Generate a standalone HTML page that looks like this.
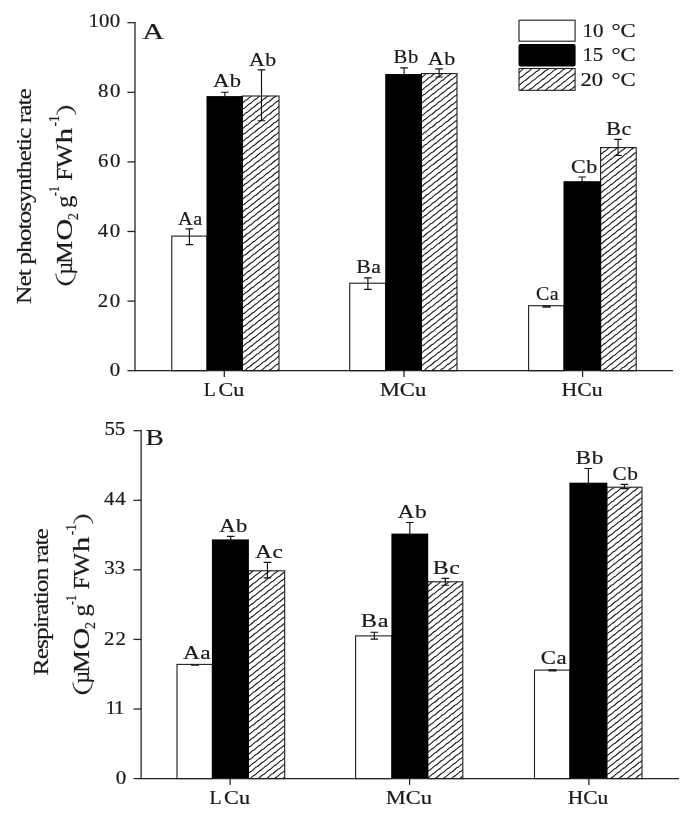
<!DOCTYPE html>
<html><head><meta charset="utf-8"><title>Figure</title>
<style>
html,body{margin:0;padding:0;background:#fff;}
svg{display:block;will-change:transform;filter:grayscale(1)}
text{font-family:"Liberation Serif",serif;fill:#1a1a1a;stroke:#1a1a1a;stroke-width:.2px;white-space:pre}
</style></head>
<body>
<svg width="685" height="818" viewBox="0 0 685 818">
<defs><clipPath id="c0"><rect x="242.3" y="96" width="36.70" height="274.70"/></clipPath><clipPath id="c1"><rect x="421.4" y="73.6" width="35.60" height="297.10"/></clipPath><clipPath id="c2"><rect x="600.6" y="147.6" width="35.60" height="223.10"/></clipPath><clipPath id="c3"><rect x="519" y="68.5" width="56.10" height="21.80"/></clipPath><clipPath id="c4"><rect x="248.4" y="570.8" width="36.30" height="207.80"/></clipPath><clipPath id="c5"><rect x="427.7" y="581.8" width="35.10" height="196.80"/></clipPath><clipPath id="c6"><rect x="606.8" y="487.2" width="35.20" height="291.40"/></clipPath></defs>
<rect width="685" height="818" fill="#fff"/>
<rect x="171.8" y="236.1" width="35.19999999999999" height="134.6" fill="#fff" stroke="#1f1f1f" stroke-width="1.1"/>
<path clip-path="url(#c0)" d="M231.9 105.2l4.7-4.25l1.3-.45l4.7-4.25l1.3-.45l4.7-4.25l1.3-.45l4.7-4.25l1.3-.45l4.7-4.25l1.3-.45l4.7-4.25l1.3-.45l4.7-4.25l1.3-.45l4.7-4.25l1.3-.45l4.7-4.25l1.3-.45l4.7-4.25l1.3-.45M235.1 109.1l4.7-4.25l1.3-.45l4.7-4.25l1.3-.45l4.7-4.25l1.3-.45l4.7-4.25l1.3-.45l4.7-4.25l1.3-.45l4.7-4.25l1.3-.45l4.7-4.25l1.3-.45l4.7-4.25l1.3-.45l4.7-4.25l1.3-.45l4.7-4.25l1.3-.45M232.3 117.7l4.7-4.25l1.3-.45l4.7-4.25l1.3-.45l4.7-4.25l1.3-.45l4.7-4.25l1.3-.45l4.7-4.25l1.3-.45l4.7-4.25l1.3-.45l4.7-4.25l1.3-.45l4.7-4.25l1.3-.45l4.7-4.25l1.3-.45l4.7-4.25l1.3-.45M235.5 121.6l4.7-4.25l1.3-.45l4.7-4.25l1.3-.45l4.7-4.25l1.3-.45l4.7-4.25l1.3-.45l4.7-4.25l1.3-.45l4.7-4.25l1.3-.45l4.7-4.25l1.3-.45l4.7-4.25l1.3-.45l4.7-4.25l1.3-.45l4.7-4.25l1.3-.45M232.7 130.2l4.7-4.25l1.3-.45l4.7-4.25l1.3-.45l4.7-4.25l1.3-.45l4.7-4.25l1.3-.45l4.7-4.25l1.3-.45l4.7-4.25l1.3-.45l4.7-4.25l1.3-.45l4.7-4.25l1.3-.45l4.7-4.25l1.3-.45l4.7-4.25l1.3-.45M235.9 134.1l4.7-4.25l1.3-.45l4.7-4.25l1.3-.45l4.7-4.25l1.3-.45l4.7-4.25l1.3-.45l4.7-4.25l1.3-.45l4.7-4.25l1.3-.45l4.7-4.25l1.3-.45l4.7-4.25l1.3-.45l4.7-4.25l1.3-.45l4.7-4.25l1.3-.45M233.1 142.7l4.7-4.25l1.3-.45l4.7-4.25l1.3-.45l4.7-4.25l1.3-.45l4.7-4.25l1.3-.45l4.7-4.25l1.3-.45l4.7-4.25l1.3-.45l4.7-4.25l1.3-.45l4.7-4.25l1.3-.45l4.7-4.25l1.3-.45l4.7-4.25l1.3-.45M230.3 151.3l4.7-4.25l1.3-.45l4.7-4.25l1.3-.45l4.7-4.25l1.3-.45l4.7-4.25l1.3-.45l4.7-4.25l1.3-.45l4.7-4.25l1.3-.45l4.7-4.25l1.3-.45l4.7-4.25l1.3-.45l4.7-4.25l1.3-.45l4.7-4.25l1.3-.45M233.5 155.2l4.7-4.25l1.3-.45l4.7-4.25l1.3-.45l4.7-4.25l1.3-.45l4.7-4.25l1.3-.45l4.7-4.25l1.3-.45l4.7-4.25l1.3-.45l4.7-4.25l1.3-.45l4.7-4.25l1.3-.45l4.7-4.25l1.3-.45l4.7-4.25l1.3-.45M230.7 163.8l4.7-4.25l1.3-.45l4.7-4.25l1.3-.45l4.7-4.25l1.3-.45l4.7-4.25l1.3-.45l4.7-4.25l1.3-.45l4.7-4.25l1.3-.45l4.7-4.25l1.3-.45l4.7-4.25l1.3-.45l4.7-4.25l1.3-.45l4.7-4.25l1.3-.45M233.9 167.7l4.7-4.25l1.3-.45l4.7-4.25l1.3-.45l4.7-4.25l1.3-.45l4.7-4.25l1.3-.45l4.7-4.25l1.3-.45l4.7-4.25l1.3-.45l4.7-4.25l1.3-.45l4.7-4.25l1.3-.45l4.7-4.25l1.3-.45l4.7-4.25l1.3-.45M231.1 176.3l4.7-4.25l1.3-.45l4.7-4.25l1.3-.45l4.7-4.25l1.3-.45l4.7-4.25l1.3-.45l4.7-4.25l1.3-.45l4.7-4.25l1.3-.45l4.7-4.25l1.3-.45l4.7-4.25l1.3-.45l4.7-4.25l1.3-.45l4.7-4.25l1.3-.45M234.3 180.2l4.7-4.25l1.3-.45l4.7-4.25l1.3-.45l4.7-4.25l1.3-.45l4.7-4.25l1.3-.45l4.7-4.25l1.3-.45l4.7-4.25l1.3-.45l4.7-4.25l1.3-.45l4.7-4.25l1.3-.45l4.7-4.25l1.3-.45l4.7-4.25l1.3-.45M231.5 188.8l4.7-4.25l1.3-.45l4.7-4.25l1.3-.45l4.7-4.25l1.3-.45l4.7-4.25l1.3-.45l4.7-4.25l1.3-.45l4.7-4.25l1.3-.45l4.7-4.25l1.3-.45l4.7-4.25l1.3-.45l4.7-4.25l1.3-.45l4.7-4.25l1.3-.45M234.7 192.7l4.7-4.25l1.3-.45l4.7-4.25l1.3-.45l4.7-4.25l1.3-.45l4.7-4.25l1.3-.45l4.7-4.25l1.3-.45l4.7-4.25l1.3-.45l4.7-4.25l1.3-.45l4.7-4.25l1.3-.45l4.7-4.25l1.3-.45l4.7-4.25l1.3-.45M231.9 201.3l4.7-4.25l1.3-.45l4.7-4.25l1.3-.45l4.7-4.25l1.3-.45l4.7-4.25l1.3-.45l4.7-4.25l1.3-.45l4.7-4.25l1.3-.45l4.7-4.25l1.3-.45l4.7-4.25l1.3-.45l4.7-4.25l1.3-.45l4.7-4.25l1.3-.45M235.1 205.2l4.7-4.25l1.3-.45l4.7-4.25l1.3-.45l4.7-4.25l1.3-.45l4.7-4.25l1.3-.45l4.7-4.25l1.3-.45l4.7-4.25l1.3-.45l4.7-4.25l1.3-.45l4.7-4.25l1.3-.45l4.7-4.25l1.3-.45l4.7-4.25l1.3-.45M232.3 213.8l4.7-4.25l1.3-.45l4.7-4.25l1.3-.45l4.7-4.25l1.3-.45l4.7-4.25l1.3-.45l4.7-4.25l1.3-.45l4.7-4.25l1.3-.45l4.7-4.25l1.3-.45l4.7-4.25l1.3-.45l4.7-4.25l1.3-.45l4.7-4.25l1.3-.45M235.5 217.7l4.7-4.25l1.3-.45l4.7-4.25l1.3-.45l4.7-4.25l1.3-.45l4.7-4.25l1.3-.45l4.7-4.25l1.3-.45l4.7-4.25l1.3-.45l4.7-4.25l1.3-.45l4.7-4.25l1.3-.45l4.7-4.25l1.3-.45l4.7-4.25l1.3-.45M232.7 226.3l4.7-4.25l1.3-.45l4.7-4.25l1.3-.45l4.7-4.25l1.3-.45l4.7-4.25l1.3-.45l4.7-4.25l1.3-.45l4.7-4.25l1.3-.45l4.7-4.25l1.3-.45l4.7-4.25l1.3-.45l4.7-4.25l1.3-.45l4.7-4.25l1.3-.45M235.9 230.2l4.7-4.25l1.3-.45l4.7-4.25l1.3-.45l4.7-4.25l1.3-.45l4.7-4.25l1.3-.45l4.7-4.25l1.3-.45l4.7-4.25l1.3-.45l4.7-4.25l1.3-.45l4.7-4.25l1.3-.45l4.7-4.25l1.3-.45l4.7-4.25l1.3-.45M233.1 238.8l4.7-4.25l1.3-.45l4.7-4.25l1.3-.45l4.7-4.25l1.3-.45l4.7-4.25l1.3-.45l4.7-4.25l1.3-.45l4.7-4.25l1.3-.45l4.7-4.25l1.3-.45l4.7-4.25l1.3-.45l4.7-4.25l1.3-.45l4.7-4.25l1.3-.45M230.3 247.4l4.7-4.25l1.3-.45l4.7-4.25l1.3-.45l4.7-4.25l1.3-.45l4.7-4.25l1.3-.45l4.7-4.25l1.3-.45l4.7-4.25l1.3-.45l4.7-4.25l1.3-.45l4.7-4.25l1.3-.45l4.7-4.25l1.3-.45l4.7-4.25l1.3-.45M233.5 251.4l4.7-4.25l1.3-.45l4.7-4.25l1.3-.45l4.7-4.25l1.3-.45l4.7-4.25l1.3-.45l4.7-4.25l1.3-.45l4.7-4.25l1.3-.45l4.7-4.25l1.3-.45l4.7-4.25l1.3-.45l4.7-4.25l1.3-.45l4.7-4.25l1.3-.45M230.7 260.0l4.7-4.25l1.3-.45l4.7-4.25l1.3-.45l4.7-4.25l1.3-.45l4.7-4.25l1.3-.45l4.7-4.25l1.3-.45l4.7-4.25l1.3-.45l4.7-4.25l1.3-.45l4.7-4.25l1.3-.45l4.7-4.25l1.3-.45l4.7-4.25l1.3-.45M233.9 263.9l4.7-4.25l1.3-.45l4.7-4.25l1.3-.45l4.7-4.25l1.3-.45l4.7-4.25l1.3-.45l4.7-4.25l1.3-.45l4.7-4.25l1.3-.45l4.7-4.25l1.3-.45l4.7-4.25l1.3-.45l4.7-4.25l1.3-.45l4.7-4.25l1.3-.45M231.1 272.5l4.7-4.25l1.3-.45l4.7-4.25l1.3-.45l4.7-4.25l1.3-.45l4.7-4.25l1.3-.45l4.7-4.25l1.3-.45l4.7-4.25l1.3-.45l4.7-4.25l1.3-.45l4.7-4.25l1.3-.45l4.7-4.25l1.3-.45l4.7-4.25l1.3-.45M234.3 276.4l4.7-4.25l1.3-.45l4.7-4.25l1.3-.45l4.7-4.25l1.3-.45l4.7-4.25l1.3-.45l4.7-4.25l1.3-.45l4.7-4.25l1.3-.45l4.7-4.25l1.3-.45l4.7-4.25l1.3-.45l4.7-4.25l1.3-.45l4.7-4.25l1.3-.45M231.5 285.0l4.7-4.25l1.3-.45l4.7-4.25l1.3-.45l4.7-4.25l1.3-.45l4.7-4.25l1.3-.45l4.7-4.25l1.3-.45l4.7-4.25l1.3-.45l4.7-4.25l1.3-.45l4.7-4.25l1.3-.45l4.7-4.25l1.3-.45l4.7-4.25l1.3-.45M234.7 288.9l4.7-4.25l1.3-.45l4.7-4.25l1.3-.45l4.7-4.25l1.3-.45l4.7-4.25l1.3-.45l4.7-4.25l1.3-.45l4.7-4.25l1.3-.45l4.7-4.25l1.3-.45l4.7-4.25l1.3-.45l4.7-4.25l1.3-.45l4.7-4.25l1.3-.45M231.9 297.5l4.7-4.25l1.3-.45l4.7-4.25l1.3-.45l4.7-4.25l1.3-.45l4.7-4.25l1.3-.45l4.7-4.25l1.3-.45l4.7-4.25l1.3-.45l4.7-4.25l1.3-.45l4.7-4.25l1.3-.45l4.7-4.25l1.3-.45l4.7-4.25l1.3-.45M235.1 301.4l4.7-4.25l1.3-.45l4.7-4.25l1.3-.45l4.7-4.25l1.3-.45l4.7-4.25l1.3-.45l4.7-4.25l1.3-.45l4.7-4.25l1.3-.45l4.7-4.25l1.3-.45l4.7-4.25l1.3-.45l4.7-4.25l1.3-.45l4.7-4.25l1.3-.45M232.3 310.0l4.7-4.25l1.3-.45l4.7-4.25l1.3-.45l4.7-4.25l1.3-.45l4.7-4.25l1.3-.45l4.7-4.25l1.3-.45l4.7-4.25l1.3-.45l4.7-4.25l1.3-.45l4.7-4.25l1.3-.45l4.7-4.25l1.3-.45l4.7-4.25l1.3-.45M235.5 313.9l4.7-4.25l1.3-.45l4.7-4.25l1.3-.45l4.7-4.25l1.3-.45l4.7-4.25l1.3-.45l4.7-4.25l1.3-.45l4.7-4.25l1.3-.45l4.7-4.25l1.3-.45l4.7-4.25l1.3-.45l4.7-4.25l1.3-.45l4.7-4.25l1.3-.45M232.7 322.5l4.7-4.25l1.3-.45l4.7-4.25l1.3-.45l4.7-4.25l1.3-.45l4.7-4.25l1.3-.45l4.7-4.25l1.3-.45l4.7-4.25l1.3-.45l4.7-4.25l1.3-.45l4.7-4.25l1.3-.45l4.7-4.25l1.3-.45l4.7-4.25l1.3-.45M235.9 326.4l4.7-4.25l1.3-.45l4.7-4.25l1.3-.45l4.7-4.25l1.3-.45l4.7-4.25l1.3-.45l4.7-4.25l1.3-.45l4.7-4.25l1.3-.45l4.7-4.25l1.3-.45l4.7-4.25l1.3-.45l4.7-4.25l1.3-.45l4.7-4.25l1.3-.45M233.1 335.0l4.7-4.25l1.3-.45l4.7-4.25l1.3-.45l4.7-4.25l1.3-.45l4.7-4.25l1.3-.45l4.7-4.25l1.3-.45l4.7-4.25l1.3-.45l4.7-4.25l1.3-.45l4.7-4.25l1.3-.45l4.7-4.25l1.3-.45l4.7-4.25l1.3-.45M230.3 343.6l4.7-4.25l1.3-.45l4.7-4.25l1.3-.45l4.7-4.25l1.3-.45l4.7-4.25l1.3-.45l4.7-4.25l1.3-.45l4.7-4.25l1.3-.45l4.7-4.25l1.3-.45l4.7-4.25l1.3-.45l4.7-4.25l1.3-.45l4.7-4.25l1.3-.45M233.5 347.5l4.7-4.25l1.3-.45l4.7-4.25l1.3-.45l4.7-4.25l1.3-.45l4.7-4.25l1.3-.45l4.7-4.25l1.3-.45l4.7-4.25l1.3-.45l4.7-4.25l1.3-.45l4.7-4.25l1.3-.45l4.7-4.25l1.3-.45l4.7-4.25l1.3-.45M230.7 356.1l4.7-4.25l1.3-.45l4.7-4.25l1.3-.45l4.7-4.25l1.3-.45l4.7-4.25l1.3-.45l4.7-4.25l1.3-.45l4.7-4.25l1.3-.45l4.7-4.25l1.3-.45l4.7-4.25l1.3-.45l4.7-4.25l1.3-.45l4.7-4.25l1.3-.45M233.9 360.0l4.7-4.25l1.3-.45l4.7-4.25l1.3-.45l4.7-4.25l1.3-.45l4.7-4.25l1.3-.45l4.7-4.25l1.3-.45l4.7-4.25l1.3-.45l4.7-4.25l1.3-.45l4.7-4.25l1.3-.45l4.7-4.25l1.3-.45l4.7-4.25l1.3-.45M231.1 368.6l4.7-4.25l1.3-.45l4.7-4.25l1.3-.45l4.7-4.25l1.3-.45l4.7-4.25l1.3-.45l4.7-4.25l1.3-.45l4.7-4.25l1.3-.45l4.7-4.25l1.3-.45l4.7-4.25l1.3-.45l4.7-4.25l1.3-.45l4.7-4.25l1.3-.45M234.3 372.5l4.7-4.25l1.3-.45l4.7-4.25l1.3-.45l4.7-4.25l1.3-.45l4.7-4.25l1.3-.45l4.7-4.25l1.3-.45l4.7-4.25l1.3-.45l4.7-4.25l1.3-.45l4.7-4.25l1.3-.45l4.7-4.25l1.3-.45l4.7-4.25l1.3-.45M231.5 381.1l4.7-4.25l1.3-.45l4.7-4.25l1.3-.45l4.7-4.25l1.3-.45l4.7-4.25l1.3-.45l4.7-4.25l1.3-.45l4.7-4.25l1.3-.45l4.7-4.25l1.3-.45l4.7-4.25l1.3-.45l4.7-4.25l1.3-.45l4.7-4.25l1.3-.45M234.7 385.0l4.7-4.25l1.3-.45l4.7-4.25l1.3-.45l4.7-4.25l1.3-.45l4.7-4.25l1.3-.45l4.7-4.25l1.3-.45l4.7-4.25l1.3-.45l4.7-4.25l1.3-.45l4.7-4.25l1.3-.45l4.7-4.25l1.3-.45l4.7-4.25l1.3-.45M231.9 393.6l4.7-4.25l1.3-.45l4.7-4.25l1.3-.45l4.7-4.25l1.3-.45l4.7-4.25l1.3-.45l4.7-4.25l1.3-.45l4.7-4.25l1.3-.45l4.7-4.25l1.3-.45l4.7-4.25l1.3-.45l4.7-4.25l1.3-.45l4.7-4.25l1.3-.45M235.1 397.5l4.7-4.25l1.3-.45l4.7-4.25l1.3-.45l4.7-4.25l1.3-.45l4.7-4.25l1.3-.45l4.7-4.25l1.3-.45l4.7-4.25l1.3-.45l4.7-4.25l1.3-.45l4.7-4.25l1.3-.45l4.7-4.25l1.3-.45l4.7-4.25l1.3-.45M232.3 406.1l4.7-4.25l1.3-.45l4.7-4.25l1.3-.45l4.7-4.25l1.3-.45l4.7-4.25l1.3-.45l4.7-4.25l1.3-.45l4.7-4.25l1.3-.45l4.7-4.25l1.3-.45l4.7-4.25l1.3-.45l4.7-4.25l1.3-.45l4.7-4.25l1.3-.45" fill="none" stroke="#1c1c1c" stroke-width="1.12" stroke-linejoin="round"/>
<rect x="242.3" y="96" width="36.70" height="274.70" fill="none" stroke="#1f1f1f" stroke-width="1.1"/>
<rect x="206.5" y="96.1" width="36.30000000000001" height="274.6" fill="#000"/>
<rect x="349.7" y="283.2" width="36.0" height="87.5" fill="#fff" stroke="#1f1f1f" stroke-width="1.1"/>
<path clip-path="url(#c1)" d="M409.4 87.2l4.7-4.25l1.3-.45l4.7-4.25l1.3-.45l4.7-4.25l1.3-.45l4.7-4.25l1.3-.45l4.7-4.25l1.3-.45l4.7-4.25l1.3-.45l4.7-4.25l1.3-.45l4.7-4.25l1.3-.45l4.7-4.25l1.3-.45M412.6 91.1l4.7-4.25l1.3-.45l4.7-4.25l1.3-.45l4.7-4.25l1.3-.45l4.7-4.25l1.3-.45l4.7-4.25l1.3-.45l4.7-4.25l1.3-.45l4.7-4.25l1.3-.45l4.7-4.25l1.3-.45l4.7-4.25l1.3-.45M409.8 99.7l4.7-4.25l1.3-.45l4.7-4.25l1.3-.45l4.7-4.25l1.3-.45l4.7-4.25l1.3-.45l4.7-4.25l1.3-.45l4.7-4.25l1.3-.45l4.7-4.25l1.3-.45l4.7-4.25l1.3-.45l4.7-4.25l1.3-.45M413.0 103.6l4.7-4.25l1.3-.45l4.7-4.25l1.3-.45l4.7-4.25l1.3-.45l4.7-4.25l1.3-.45l4.7-4.25l1.3-.45l4.7-4.25l1.3-.45l4.7-4.25l1.3-.45l4.7-4.25l1.3-.45l4.7-4.25l1.3-.45M410.2 112.2l4.7-4.25l1.3-.45l4.7-4.25l1.3-.45l4.7-4.25l1.3-.45l4.7-4.25l1.3-.45l4.7-4.25l1.3-.45l4.7-4.25l1.3-.45l4.7-4.25l1.3-.45l4.7-4.25l1.3-.45l4.7-4.25l1.3-.45M413.4 116.1l4.7-4.25l1.3-.45l4.7-4.25l1.3-.45l4.7-4.25l1.3-.45l4.7-4.25l1.3-.45l4.7-4.25l1.3-.45l4.7-4.25l1.3-.45l4.7-4.25l1.3-.45l4.7-4.25l1.3-.45l4.7-4.25l1.3-.45M410.6 124.7l4.7-4.25l1.3-.45l4.7-4.25l1.3-.45l4.7-4.25l1.3-.45l4.7-4.25l1.3-.45l4.7-4.25l1.3-.45l4.7-4.25l1.3-.45l4.7-4.25l1.3-.45l4.7-4.25l1.3-.45l4.7-4.25l1.3-.45M413.8 128.6l4.7-4.25l1.3-.45l4.7-4.25l1.3-.45l4.7-4.25l1.3-.45l4.7-4.25l1.3-.45l4.7-4.25l1.3-.45l4.7-4.25l1.3-.45l4.7-4.25l1.3-.45l4.7-4.25l1.3-.45l4.7-4.25l1.3-.45M411.0 137.2l4.7-4.25l1.3-.45l4.7-4.25l1.3-.45l4.7-4.25l1.3-.45l4.7-4.25l1.3-.45l4.7-4.25l1.3-.45l4.7-4.25l1.3-.45l4.7-4.25l1.3-.45l4.7-4.25l1.3-.45l4.7-4.25l1.3-.45M414.2 141.1l4.7-4.25l1.3-.45l4.7-4.25l1.3-.45l4.7-4.25l1.3-.45l4.7-4.25l1.3-.45l4.7-4.25l1.3-.45l4.7-4.25l1.3-.45l4.7-4.25l1.3-.45l4.7-4.25l1.3-.45l4.7-4.25l1.3-.45M411.4 149.7l4.7-4.25l1.3-.45l4.7-4.25l1.3-.45l4.7-4.25l1.3-.45l4.7-4.25l1.3-.45l4.7-4.25l1.3-.45l4.7-4.25l1.3-.45l4.7-4.25l1.3-.45l4.7-4.25l1.3-.45l4.7-4.25l1.3-.45M414.6 153.6l4.7-4.25l1.3-.45l4.7-4.25l1.3-.45l4.7-4.25l1.3-.45l4.7-4.25l1.3-.45l4.7-4.25l1.3-.45l4.7-4.25l1.3-.45l4.7-4.25l1.3-.45l4.7-4.25l1.3-.45l4.7-4.25l1.3-.45M411.8 162.2l4.7-4.25l1.3-.45l4.7-4.25l1.3-.45l4.7-4.25l1.3-.45l4.7-4.25l1.3-.45l4.7-4.25l1.3-.45l4.7-4.25l1.3-.45l4.7-4.25l1.3-.45l4.7-4.25l1.3-.45l4.7-4.25l1.3-.45M415.0 166.1l4.7-4.25l1.3-.45l4.7-4.25l1.3-.45l4.7-4.25l1.3-.45l4.7-4.25l1.3-.45l4.7-4.25l1.3-.45l4.7-4.25l1.3-.45l4.7-4.25l1.3-.45l4.7-4.25l1.3-.45l4.7-4.25l1.3-.45M412.2 174.7l4.7-4.25l1.3-.45l4.7-4.25l1.3-.45l4.7-4.25l1.3-.45l4.7-4.25l1.3-.45l4.7-4.25l1.3-.45l4.7-4.25l1.3-.45l4.7-4.25l1.3-.45l4.7-4.25l1.3-.45l4.7-4.25l1.3-.45M409.4 183.3l4.7-4.25l1.3-.45l4.7-4.25l1.3-.45l4.7-4.25l1.3-.45l4.7-4.25l1.3-.45l4.7-4.25l1.3-.45l4.7-4.25l1.3-.45l4.7-4.25l1.3-.45l4.7-4.25l1.3-.45l4.7-4.25l1.3-.45M412.6 187.3l4.7-4.25l1.3-.45l4.7-4.25l1.3-.45l4.7-4.25l1.3-.45l4.7-4.25l1.3-.45l4.7-4.25l1.3-.45l4.7-4.25l1.3-.45l4.7-4.25l1.3-.45l4.7-4.25l1.3-.45l4.7-4.25l1.3-.45M409.8 195.9l4.7-4.25l1.3-.45l4.7-4.25l1.3-.45l4.7-4.25l1.3-.45l4.7-4.25l1.3-.45l4.7-4.25l1.3-.45l4.7-4.25l1.3-.45l4.7-4.25l1.3-.45l4.7-4.25l1.3-.45l4.7-4.25l1.3-.45M413.0 199.8l4.7-4.25l1.3-.45l4.7-4.25l1.3-.45l4.7-4.25l1.3-.45l4.7-4.25l1.3-.45l4.7-4.25l1.3-.45l4.7-4.25l1.3-.45l4.7-4.25l1.3-.45l4.7-4.25l1.3-.45l4.7-4.25l1.3-.45M410.2 208.4l4.7-4.25l1.3-.45l4.7-4.25l1.3-.45l4.7-4.25l1.3-.45l4.7-4.25l1.3-.45l4.7-4.25l1.3-.45l4.7-4.25l1.3-.45l4.7-4.25l1.3-.45l4.7-4.25l1.3-.45l4.7-4.25l1.3-.45M413.4 212.3l4.7-4.25l1.3-.45l4.7-4.25l1.3-.45l4.7-4.25l1.3-.45l4.7-4.25l1.3-.45l4.7-4.25l1.3-.45l4.7-4.25l1.3-.45l4.7-4.25l1.3-.45l4.7-4.25l1.3-.45l4.7-4.25l1.3-.45M410.6 220.9l4.7-4.25l1.3-.45l4.7-4.25l1.3-.45l4.7-4.25l1.3-.45l4.7-4.25l1.3-.45l4.7-4.25l1.3-.45l4.7-4.25l1.3-.45l4.7-4.25l1.3-.45l4.7-4.25l1.3-.45l4.7-4.25l1.3-.45M413.8 224.8l4.7-4.25l1.3-.45l4.7-4.25l1.3-.45l4.7-4.25l1.3-.45l4.7-4.25l1.3-.45l4.7-4.25l1.3-.45l4.7-4.25l1.3-.45l4.7-4.25l1.3-.45l4.7-4.25l1.3-.45l4.7-4.25l1.3-.45M411.0 233.4l4.7-4.25l1.3-.45l4.7-4.25l1.3-.45l4.7-4.25l1.3-.45l4.7-4.25l1.3-.45l4.7-4.25l1.3-.45l4.7-4.25l1.3-.45l4.7-4.25l1.3-.45l4.7-4.25l1.3-.45l4.7-4.25l1.3-.45M414.2 237.3l4.7-4.25l1.3-.45l4.7-4.25l1.3-.45l4.7-4.25l1.3-.45l4.7-4.25l1.3-.45l4.7-4.25l1.3-.45l4.7-4.25l1.3-.45l4.7-4.25l1.3-.45l4.7-4.25l1.3-.45l4.7-4.25l1.3-.45M411.4 245.9l4.7-4.25l1.3-.45l4.7-4.25l1.3-.45l4.7-4.25l1.3-.45l4.7-4.25l1.3-.45l4.7-4.25l1.3-.45l4.7-4.25l1.3-.45l4.7-4.25l1.3-.45l4.7-4.25l1.3-.45l4.7-4.25l1.3-.45M414.6 249.8l4.7-4.25l1.3-.45l4.7-4.25l1.3-.45l4.7-4.25l1.3-.45l4.7-4.25l1.3-.45l4.7-4.25l1.3-.45l4.7-4.25l1.3-.45l4.7-4.25l1.3-.45l4.7-4.25l1.3-.45l4.7-4.25l1.3-.45M411.8 258.4l4.7-4.25l1.3-.45l4.7-4.25l1.3-.45l4.7-4.25l1.3-.45l4.7-4.25l1.3-.45l4.7-4.25l1.3-.45l4.7-4.25l1.3-.45l4.7-4.25l1.3-.45l4.7-4.25l1.3-.45l4.7-4.25l1.3-.45M415.0 262.3l4.7-4.25l1.3-.45l4.7-4.25l1.3-.45l4.7-4.25l1.3-.45l4.7-4.25l1.3-.45l4.7-4.25l1.3-.45l4.7-4.25l1.3-.45l4.7-4.25l1.3-.45l4.7-4.25l1.3-.45l4.7-4.25l1.3-.45M412.2 270.9l4.7-4.25l1.3-.45l4.7-4.25l1.3-.45l4.7-4.25l1.3-.45l4.7-4.25l1.3-.45l4.7-4.25l1.3-.45l4.7-4.25l1.3-.45l4.7-4.25l1.3-.45l4.7-4.25l1.3-.45l4.7-4.25l1.3-.45M409.4 279.5l4.7-4.25l1.3-.45l4.7-4.25l1.3-.45l4.7-4.25l1.3-.45l4.7-4.25l1.3-.45l4.7-4.25l1.3-.45l4.7-4.25l1.3-.45l4.7-4.25l1.3-.45l4.7-4.25l1.3-.45l4.7-4.25l1.3-.45M412.6 283.4l4.7-4.25l1.3-.45l4.7-4.25l1.3-.45l4.7-4.25l1.3-.45l4.7-4.25l1.3-.45l4.7-4.25l1.3-.45l4.7-4.25l1.3-.45l4.7-4.25l1.3-.45l4.7-4.25l1.3-.45l4.7-4.25l1.3-.45M409.8 292.0l4.7-4.25l1.3-.45l4.7-4.25l1.3-.45l4.7-4.25l1.3-.45l4.7-4.25l1.3-.45l4.7-4.25l1.3-.45l4.7-4.25l1.3-.45l4.7-4.25l1.3-.45l4.7-4.25l1.3-.45l4.7-4.25l1.3-.45M413.0 295.9l4.7-4.25l1.3-.45l4.7-4.25l1.3-.45l4.7-4.25l1.3-.45l4.7-4.25l1.3-.45l4.7-4.25l1.3-.45l4.7-4.25l1.3-.45l4.7-4.25l1.3-.45l4.7-4.25l1.3-.45l4.7-4.25l1.3-.45M410.2 304.5l4.7-4.25l1.3-.45l4.7-4.25l1.3-.45l4.7-4.25l1.3-.45l4.7-4.25l1.3-.45l4.7-4.25l1.3-.45l4.7-4.25l1.3-.45l4.7-4.25l1.3-.45l4.7-4.25l1.3-.45l4.7-4.25l1.3-.45M413.4 308.4l4.7-4.25l1.3-.45l4.7-4.25l1.3-.45l4.7-4.25l1.3-.45l4.7-4.25l1.3-.45l4.7-4.25l1.3-.45l4.7-4.25l1.3-.45l4.7-4.25l1.3-.45l4.7-4.25l1.3-.45l4.7-4.25l1.3-.45M410.6 317.0l4.7-4.25l1.3-.45l4.7-4.25l1.3-.45l4.7-4.25l1.3-.45l4.7-4.25l1.3-.45l4.7-4.25l1.3-.45l4.7-4.25l1.3-.45l4.7-4.25l1.3-.45l4.7-4.25l1.3-.45l4.7-4.25l1.3-.45M413.8 320.9l4.7-4.25l1.3-.45l4.7-4.25l1.3-.45l4.7-4.25l1.3-.45l4.7-4.25l1.3-.45l4.7-4.25l1.3-.45l4.7-4.25l1.3-.45l4.7-4.25l1.3-.45l4.7-4.25l1.3-.45l4.7-4.25l1.3-.45M411.0 329.5l4.7-4.25l1.3-.45l4.7-4.25l1.3-.45l4.7-4.25l1.3-.45l4.7-4.25l1.3-.45l4.7-4.25l1.3-.45l4.7-4.25l1.3-.45l4.7-4.25l1.3-.45l4.7-4.25l1.3-.45l4.7-4.25l1.3-.45M414.2 333.4l4.7-4.25l1.3-.45l4.7-4.25l1.3-.45l4.7-4.25l1.3-.45l4.7-4.25l1.3-.45l4.7-4.25l1.3-.45l4.7-4.25l1.3-.45l4.7-4.25l1.3-.45l4.7-4.25l1.3-.45l4.7-4.25l1.3-.45M411.4 342.0l4.7-4.25l1.3-.45l4.7-4.25l1.3-.45l4.7-4.25l1.3-.45l4.7-4.25l1.3-.45l4.7-4.25l1.3-.45l4.7-4.25l1.3-.45l4.7-4.25l1.3-.45l4.7-4.25l1.3-.45l4.7-4.25l1.3-.45M414.6 345.9l4.7-4.25l1.3-.45l4.7-4.25l1.3-.45l4.7-4.25l1.3-.45l4.7-4.25l1.3-.45l4.7-4.25l1.3-.45l4.7-4.25l1.3-.45l4.7-4.25l1.3-.45l4.7-4.25l1.3-.45l4.7-4.25l1.3-.45M411.8 354.5l4.7-4.25l1.3-.45l4.7-4.25l1.3-.45l4.7-4.25l1.3-.45l4.7-4.25l1.3-.45l4.7-4.25l1.3-.45l4.7-4.25l1.3-.45l4.7-4.25l1.3-.45l4.7-4.25l1.3-.45l4.7-4.25l1.3-.45M415.0 358.4l4.7-4.25l1.3-.45l4.7-4.25l1.3-.45l4.7-4.25l1.3-.45l4.7-4.25l1.3-.45l4.7-4.25l1.3-.45l4.7-4.25l1.3-.45l4.7-4.25l1.3-.45l4.7-4.25l1.3-.45l4.7-4.25l1.3-.45M412.2 367.0l4.7-4.25l1.3-.45l4.7-4.25l1.3-.45l4.7-4.25l1.3-.45l4.7-4.25l1.3-.45l4.7-4.25l1.3-.45l4.7-4.25l1.3-.45l4.7-4.25l1.3-.45l4.7-4.25l1.3-.45l4.7-4.25l1.3-.45M409.4 375.6l4.7-4.25l1.3-.45l4.7-4.25l1.3-.45l4.7-4.25l1.3-.45l4.7-4.25l1.3-.45l4.7-4.25l1.3-.45l4.7-4.25l1.3-.45l4.7-4.25l1.3-.45l4.7-4.25l1.3-.45l4.7-4.25l1.3-.45M412.6 379.6l4.7-4.25l1.3-.45l4.7-4.25l1.3-.45l4.7-4.25l1.3-.45l4.7-4.25l1.3-.45l4.7-4.25l1.3-.45l4.7-4.25l1.3-.45l4.7-4.25l1.3-.45l4.7-4.25l1.3-.45l4.7-4.25l1.3-.45M409.8 388.2l4.7-4.25l1.3-.45l4.7-4.25l1.3-.45l4.7-4.25l1.3-.45l4.7-4.25l1.3-.45l4.7-4.25l1.3-.45l4.7-4.25l1.3-.45l4.7-4.25l1.3-.45l4.7-4.25l1.3-.45l4.7-4.25l1.3-.45M413.0 392.1l4.7-4.25l1.3-.45l4.7-4.25l1.3-.45l4.7-4.25l1.3-.45l4.7-4.25l1.3-.45l4.7-4.25l1.3-.45l4.7-4.25l1.3-.45l4.7-4.25l1.3-.45l4.7-4.25l1.3-.45l4.7-4.25l1.3-.45M410.2 400.7l4.7-4.25l1.3-.45l4.7-4.25l1.3-.45l4.7-4.25l1.3-.45l4.7-4.25l1.3-.45l4.7-4.25l1.3-.45l4.7-4.25l1.3-.45l4.7-4.25l1.3-.45l4.7-4.25l1.3-.45l4.7-4.25l1.3-.45M413.4 404.6l4.7-4.25l1.3-.45l4.7-4.25l1.3-.45l4.7-4.25l1.3-.45l4.7-4.25l1.3-.45l4.7-4.25l1.3-.45l4.7-4.25l1.3-.45l4.7-4.25l1.3-.45l4.7-4.25l1.3-.45l4.7-4.25l1.3-.45" fill="none" stroke="#1c1c1c" stroke-width="1.12" stroke-linejoin="round"/>
<rect x="421.4" y="73.6" width="35.60" height="297.10" fill="none" stroke="#1f1f1f" stroke-width="1.1"/>
<rect x="385.2" y="74.0" width="36.69999999999999" height="296.7" fill="#000"/>
<rect x="528.6" y="305.7" width="35.39999999999998" height="65.0" fill="#fff" stroke="#1f1f1f" stroke-width="1.1"/>
<path clip-path="url(#c2)" d="M589.8 156.8l4.7-4.25l1.3-.45l4.7-4.25l1.3-.45l4.7-4.25l1.3-.45l4.7-4.25l1.3-.45l4.7-4.25l1.3-.45l4.7-4.25l1.3-.45l4.7-4.25l1.3-.45l4.7-4.25l1.3-.45l4.7-4.25l1.3-.45M593.0 160.7l4.7-4.25l1.3-.45l4.7-4.25l1.3-.45l4.7-4.25l1.3-.45l4.7-4.25l1.3-.45l4.7-4.25l1.3-.45l4.7-4.25l1.3-.45l4.7-4.25l1.3-.45l4.7-4.25l1.3-.45l4.7-4.25l1.3-.45M590.2 169.3l4.7-4.25l1.3-.45l4.7-4.25l1.3-.45l4.7-4.25l1.3-.45l4.7-4.25l1.3-.45l4.7-4.25l1.3-.45l4.7-4.25l1.3-.45l4.7-4.25l1.3-.45l4.7-4.25l1.3-.45l4.7-4.25l1.3-.45M593.4 173.2l4.7-4.25l1.3-.45l4.7-4.25l1.3-.45l4.7-4.25l1.3-.45l4.7-4.25l1.3-.45l4.7-4.25l1.3-.45l4.7-4.25l1.3-.45l4.7-4.25l1.3-.45l4.7-4.25l1.3-.45l4.7-4.25l1.3-.45M590.6 181.8l4.7-4.25l1.3-.45l4.7-4.25l1.3-.45l4.7-4.25l1.3-.45l4.7-4.25l1.3-.45l4.7-4.25l1.3-.45l4.7-4.25l1.3-.45l4.7-4.25l1.3-.45l4.7-4.25l1.3-.45l4.7-4.25l1.3-.45M593.8 185.7l4.7-4.25l1.3-.45l4.7-4.25l1.3-.45l4.7-4.25l1.3-.45l4.7-4.25l1.3-.45l4.7-4.25l1.3-.45l4.7-4.25l1.3-.45l4.7-4.25l1.3-.45l4.7-4.25l1.3-.45l4.7-4.25l1.3-.45M591.0 194.3l4.7-4.25l1.3-.45l4.7-4.25l1.3-.45l4.7-4.25l1.3-.45l4.7-4.25l1.3-.45l4.7-4.25l1.3-.45l4.7-4.25l1.3-.45l4.7-4.25l1.3-.45l4.7-4.25l1.3-.45l4.7-4.25l1.3-.45M594.2 198.2l4.7-4.25l1.3-.45l4.7-4.25l1.3-.45l4.7-4.25l1.3-.45l4.7-4.25l1.3-.45l4.7-4.25l1.3-.45l4.7-4.25l1.3-.45l4.7-4.25l1.3-.45l4.7-4.25l1.3-.45l4.7-4.25l1.3-.45M591.4 206.8l4.7-4.25l1.3-.45l4.7-4.25l1.3-.45l4.7-4.25l1.3-.45l4.7-4.25l1.3-.45l4.7-4.25l1.3-.45l4.7-4.25l1.3-.45l4.7-4.25l1.3-.45l4.7-4.25l1.3-.45l4.7-4.25l1.3-.45M588.6 215.4l4.7-4.25l1.3-.45l4.7-4.25l1.3-.45l4.7-4.25l1.3-.45l4.7-4.25l1.3-.45l4.7-4.25l1.3-.45l4.7-4.25l1.3-.45l4.7-4.25l1.3-.45l4.7-4.25l1.3-.45l4.7-4.25l1.3-.45M591.8 219.3l4.7-4.25l1.3-.45l4.7-4.25l1.3-.45l4.7-4.25l1.3-.45l4.7-4.25l1.3-.45l4.7-4.25l1.3-.45l4.7-4.25l1.3-.45l4.7-4.25l1.3-.45l4.7-4.25l1.3-.45l4.7-4.25l1.3-.45M589.0 227.9l4.7-4.25l1.3-.45l4.7-4.25l1.3-.45l4.7-4.25l1.3-.45l4.7-4.25l1.3-.45l4.7-4.25l1.3-.45l4.7-4.25l1.3-.45l4.7-4.25l1.3-.45l4.7-4.25l1.3-.45l4.7-4.25l1.3-.45M592.2 231.8l4.7-4.25l1.3-.45l4.7-4.25l1.3-.45l4.7-4.25l1.3-.45l4.7-4.25l1.3-.45l4.7-4.25l1.3-.45l4.7-4.25l1.3-.45l4.7-4.25l1.3-.45l4.7-4.25l1.3-.45l4.7-4.25l1.3-.45M589.4 240.4l4.7-4.25l1.3-.45l4.7-4.25l1.3-.45l4.7-4.25l1.3-.45l4.7-4.25l1.3-.45l4.7-4.25l1.3-.45l4.7-4.25l1.3-.45l4.7-4.25l1.3-.45l4.7-4.25l1.3-.45l4.7-4.25l1.3-.45M592.6 244.3l4.7-4.25l1.3-.45l4.7-4.25l1.3-.45l4.7-4.25l1.3-.45l4.7-4.25l1.3-.45l4.7-4.25l1.3-.45l4.7-4.25l1.3-.45l4.7-4.25l1.3-.45l4.7-4.25l1.3-.45l4.7-4.25l1.3-.45M589.8 252.9l4.7-4.25l1.3-.45l4.7-4.25l1.3-.45l4.7-4.25l1.3-.45l4.7-4.25l1.3-.45l4.7-4.25l1.3-.45l4.7-4.25l1.3-.45l4.7-4.25l1.3-.45l4.7-4.25l1.3-.45l4.7-4.25l1.3-.45M593.0 256.8l4.7-4.25l1.3-.45l4.7-4.25l1.3-.45l4.7-4.25l1.3-.45l4.7-4.25l1.3-.45l4.7-4.25l1.3-.45l4.7-4.25l1.3-.45l4.7-4.25l1.3-.45l4.7-4.25l1.3-.45l4.7-4.25l1.3-.45M590.2 265.4l4.7-4.25l1.3-.45l4.7-4.25l1.3-.45l4.7-4.25l1.3-.45l4.7-4.25l1.3-.45l4.7-4.25l1.3-.45l4.7-4.25l1.3-.45l4.7-4.25l1.3-.45l4.7-4.25l1.3-.45l4.7-4.25l1.3-.45M593.4 269.3l4.7-4.25l1.3-.45l4.7-4.25l1.3-.45l4.7-4.25l1.3-.45l4.7-4.25l1.3-.45l4.7-4.25l1.3-.45l4.7-4.25l1.3-.45l4.7-4.25l1.3-.45l4.7-4.25l1.3-.45l4.7-4.25l1.3-.45M590.6 277.9l4.7-4.25l1.3-.45l4.7-4.25l1.3-.45l4.7-4.25l1.3-.45l4.7-4.25l1.3-.45l4.7-4.25l1.3-.45l4.7-4.25l1.3-.45l4.7-4.25l1.3-.45l4.7-4.25l1.3-.45l4.7-4.25l1.3-.45M593.8 281.8l4.7-4.25l1.3-.45l4.7-4.25l1.3-.45l4.7-4.25l1.3-.45l4.7-4.25l1.3-.45l4.7-4.25l1.3-.45l4.7-4.25l1.3-.45l4.7-4.25l1.3-.45l4.7-4.25l1.3-.45l4.7-4.25l1.3-.45M591.0 290.4l4.7-4.25l1.3-.45l4.7-4.25l1.3-.45l4.7-4.25l1.3-.45l4.7-4.25l1.3-.45l4.7-4.25l1.3-.45l4.7-4.25l1.3-.45l4.7-4.25l1.3-.45l4.7-4.25l1.3-.45l4.7-4.25l1.3-.45M594.2 294.3l4.7-4.25l1.3-.45l4.7-4.25l1.3-.45l4.7-4.25l1.3-.45l4.7-4.25l1.3-.45l4.7-4.25l1.3-.45l4.7-4.25l1.3-.45l4.7-4.25l1.3-.45l4.7-4.25l1.3-.45l4.7-4.25l1.3-.45M591.4 302.9l4.7-4.25l1.3-.45l4.7-4.25l1.3-.45l4.7-4.25l1.3-.45l4.7-4.25l1.3-.45l4.7-4.25l1.3-.45l4.7-4.25l1.3-.45l4.7-4.25l1.3-.45l4.7-4.25l1.3-.45l4.7-4.25l1.3-.45M588.6 311.5l4.7-4.25l1.3-.45l4.7-4.25l1.3-.45l4.7-4.25l1.3-.45l4.7-4.25l1.3-.45l4.7-4.25l1.3-.45l4.7-4.25l1.3-.45l4.7-4.25l1.3-.45l4.7-4.25l1.3-.45l4.7-4.25l1.3-.45M591.8 315.5l4.7-4.25l1.3-.45l4.7-4.25l1.3-.45l4.7-4.25l1.3-.45l4.7-4.25l1.3-.45l4.7-4.25l1.3-.45l4.7-4.25l1.3-.45l4.7-4.25l1.3-.45l4.7-4.25l1.3-.45l4.7-4.25l1.3-.45M589.0 324.1l4.7-4.25l1.3-.45l4.7-4.25l1.3-.45l4.7-4.25l1.3-.45l4.7-4.25l1.3-.45l4.7-4.25l1.3-.45l4.7-4.25l1.3-.45l4.7-4.25l1.3-.45l4.7-4.25l1.3-.45l4.7-4.25l1.3-.45M592.2 328.0l4.7-4.25l1.3-.45l4.7-4.25l1.3-.45l4.7-4.25l1.3-.45l4.7-4.25l1.3-.45l4.7-4.25l1.3-.45l4.7-4.25l1.3-.45l4.7-4.25l1.3-.45l4.7-4.25l1.3-.45l4.7-4.25l1.3-.45M589.4 336.6l4.7-4.25l1.3-.45l4.7-4.25l1.3-.45l4.7-4.25l1.3-.45l4.7-4.25l1.3-.45l4.7-4.25l1.3-.45l4.7-4.25l1.3-.45l4.7-4.25l1.3-.45l4.7-4.25l1.3-.45l4.7-4.25l1.3-.45M592.6 340.5l4.7-4.25l1.3-.45l4.7-4.25l1.3-.45l4.7-4.25l1.3-.45l4.7-4.25l1.3-.45l4.7-4.25l1.3-.45l4.7-4.25l1.3-.45l4.7-4.25l1.3-.45l4.7-4.25l1.3-.45l4.7-4.25l1.3-.45M589.8 349.1l4.7-4.25l1.3-.45l4.7-4.25l1.3-.45l4.7-4.25l1.3-.45l4.7-4.25l1.3-.45l4.7-4.25l1.3-.45l4.7-4.25l1.3-.45l4.7-4.25l1.3-.45l4.7-4.25l1.3-.45l4.7-4.25l1.3-.45M593.0 353.0l4.7-4.25l1.3-.45l4.7-4.25l1.3-.45l4.7-4.25l1.3-.45l4.7-4.25l1.3-.45l4.7-4.25l1.3-.45l4.7-4.25l1.3-.45l4.7-4.25l1.3-.45l4.7-4.25l1.3-.45l4.7-4.25l1.3-.45M590.2 361.6l4.7-4.25l1.3-.45l4.7-4.25l1.3-.45l4.7-4.25l1.3-.45l4.7-4.25l1.3-.45l4.7-4.25l1.3-.45l4.7-4.25l1.3-.45l4.7-4.25l1.3-.45l4.7-4.25l1.3-.45l4.7-4.25l1.3-.45M593.4 365.5l4.7-4.25l1.3-.45l4.7-4.25l1.3-.45l4.7-4.25l1.3-.45l4.7-4.25l1.3-.45l4.7-4.25l1.3-.45l4.7-4.25l1.3-.45l4.7-4.25l1.3-.45l4.7-4.25l1.3-.45l4.7-4.25l1.3-.45M590.6 374.1l4.7-4.25l1.3-.45l4.7-4.25l1.3-.45l4.7-4.25l1.3-.45l4.7-4.25l1.3-.45l4.7-4.25l1.3-.45l4.7-4.25l1.3-.45l4.7-4.25l1.3-.45l4.7-4.25l1.3-.45l4.7-4.25l1.3-.45M593.8 378.0l4.7-4.25l1.3-.45l4.7-4.25l1.3-.45l4.7-4.25l1.3-.45l4.7-4.25l1.3-.45l4.7-4.25l1.3-.45l4.7-4.25l1.3-.45l4.7-4.25l1.3-.45l4.7-4.25l1.3-.45l4.7-4.25l1.3-.45M591.0 386.6l4.7-4.25l1.3-.45l4.7-4.25l1.3-.45l4.7-4.25l1.3-.45l4.7-4.25l1.3-.45l4.7-4.25l1.3-.45l4.7-4.25l1.3-.45l4.7-4.25l1.3-.45l4.7-4.25l1.3-.45l4.7-4.25l1.3-.45M594.2 390.5l4.7-4.25l1.3-.45l4.7-4.25l1.3-.45l4.7-4.25l1.3-.45l4.7-4.25l1.3-.45l4.7-4.25l1.3-.45l4.7-4.25l1.3-.45l4.7-4.25l1.3-.45l4.7-4.25l1.3-.45l4.7-4.25l1.3-.45M591.4 399.1l4.7-4.25l1.3-.45l4.7-4.25l1.3-.45l4.7-4.25l1.3-.45l4.7-4.25l1.3-.45l4.7-4.25l1.3-.45l4.7-4.25l1.3-.45l4.7-4.25l1.3-.45l4.7-4.25l1.3-.45l4.7-4.25l1.3-.45M588.6 407.7l4.7-4.25l1.3-.45l4.7-4.25l1.3-.45l4.7-4.25l1.3-.45l4.7-4.25l1.3-.45l4.7-4.25l1.3-.45l4.7-4.25l1.3-.45l4.7-4.25l1.3-.45l4.7-4.25l1.3-.45l4.7-4.25l1.3-.45" fill="none" stroke="#1c1c1c" stroke-width="1.12" stroke-linejoin="round"/>
<rect x="600.6" y="147.6" width="35.60" height="223.10" fill="none" stroke="#1f1f1f" stroke-width="1.1"/>
<rect x="563.5" y="181.2" width="37.60000000000002" height="189.5" fill="#000"/>
<path d="M135 21.9V370.7H673" fill="none" stroke="#1f1f1f" stroke-width="1.25"/>
<path d="M127.4 370.7H135" stroke="#1f1f1f" stroke-width="1.25"/>
<path d="M127.4 301.1H135" stroke="#1f1f1f" stroke-width="1.25"/>
<path d="M127.4 231.5H135" stroke="#1f1f1f" stroke-width="1.25"/>
<path d="M127.4 161.9H135" stroke="#1f1f1f" stroke-width="1.25"/>
<path d="M127.4 92.30000000000001H135" stroke="#1f1f1f" stroke-width="1.25"/>
<path d="M127.4 22.69999999999999H135" stroke="#1f1f1f" stroke-width="1.25"/>
<path d="M224.3 370.7V377.0" stroke="#1f1f1f" stroke-width="1.25"/>
<path d="M404 370.7V377.0" stroke="#1f1f1f" stroke-width="1.25"/>
<path d="M582.6 370.7V377.0" stroke="#1f1f1f" stroke-width="1.25"/>
<text transform="translate(88.50,26.90) scale(1.0800,1)" font-size="19.3" letter-spacing="0.176">100</text>
<text transform="translate(98.10,96.90) scale(1.0800,1)" font-size="19.3" letter-spacing="1.348">80</text>
<text transform="translate(98.10,167.20) scale(1.0800,1)" font-size="19.3" letter-spacing="1.348">60</text>
<text transform="translate(97.80,237.10) scale(1.0800,1)" font-size="19.3" letter-spacing="1.533">40</text>
<text transform="translate(97.80,306.60) scale(1.0800,1)" font-size="19.3" letter-spacing="1.533">20</text>
<text transform="translate(109.80,375.90) scale(1.0825,1)" font-size="19.3">0</text>
<text transform="translate(203.80,395.90) scale(1.0804,1)" font-size="18.3">L</text>
<text transform="translate(218.40,395.90) scale(1.2103,1)" font-size="18.3">Cu</text>
<text transform="translate(379.70,396.00) scale(1.2394,1)" font-size="18.3">MCu</text>
<text transform="translate(561.50,395.80) scale(1.1908,1)" font-size="18.3">HCu</text>
<path d="M185.6 228.8H193.20000000000002M189.4 228.8V244.6M185.6 244.6H193.20000000000002" stroke="#111" stroke-width="1.15" fill="none"/>
<path d="M221.1 92.2H228.70000000000002M224.9 92.2V97M221.1 97H228.70000000000002" stroke="#111" stroke-width="1.15" fill="none"/>
<path d="M257.7 69.8H265.3M261.5 69.8V120.7M257.7 120.7H265.3" stroke="#111" stroke-width="1.15" fill="none"/>
<path d="M364.09999999999997 277.9H371.7M367.9 277.9V289.3M364.09999999999997 289.3H371.7" stroke="#111" stroke-width="1.15" fill="none"/>
<path d="M400.3 67.9H407.90000000000003M404.1 67.9V75M400.3 75H407.90000000000003" stroke="#111" stroke-width="1.15" fill="none"/>
<path d="M435.3 68.8H442.90000000000003M439.1 68.8V77M435.3 77H442.90000000000003" stroke="#111" stroke-width="1.15" fill="none"/>
<path d="M542.4 306.6H550.6" stroke="#1f1f1f" stroke-width="2.2"/>
<path d="M578.3000000000001 177H585.9M582.1 177V182M578.3000000000001 182H585.9" stroke="#111" stroke-width="1.15" fill="none"/>
<path d="M614.3000000000001 139.4H621.9M618.1 139.4V155.5M614.3000000000001 155.5H621.9" stroke="#111" stroke-width="1.15" fill="none"/>
<text transform="translate(178.10,224.70) scale(1.0342,1)" font-size="19.6" letter-spacing="0.500">Aa</text>
<text transform="translate(213.00,87.40) scale(1.1510,1)" font-size="19.6" letter-spacing="0.500">Ab</text>
<text transform="translate(249.10,65.60) scale(1.1102,1)" font-size="19.6" letter-spacing="0.500">Ab</text>
<text transform="translate(356.20,272.80) scale(1.1076,1)" font-size="19.6" letter-spacing="0.500">Ba</text>
<text transform="translate(393.60,63.20) scale(1.0556,1)" font-size="19.6" letter-spacing="0.500">Bb</text>
<text transform="translate(427.80,64.70) scale(1.1224,1)" font-size="19.6" letter-spacing="0.500">Ab</text>
<text transform="translate(535.90,300.40) scale(1.0179,1)" font-size="19.6" letter-spacing="0.500">Ca</text>
<text transform="translate(571.10,172.60) scale(1.1239,1)" font-size="19.6" letter-spacing="0.500">Cb</text>
<text transform="translate(605.90,135.00) scale(1.1480,1)" font-size="19.6" letter-spacing="0.500">Bc</text>
<text transform="translate(142.30,38.60) scale(1.3253,1)" font-size="23">A</text>
<rect x="519" y="20.2" width="56.1" height="21" fill="#fff" stroke="#1f1f1f" stroke-width="1.1"/>
<rect x="518.5" y="44" width="57.1" height="22.4" rx="2" fill="#000"/>
<path clip-path="url(#c3)" d="M507.0 82.1l4.7-4.25l1.3-.45l4.7-4.25l1.3-.45l4.7-4.25l1.3-.45l4.7-4.25l1.3-.45l4.7-4.25l1.3-.45l4.7-4.25l1.3-.45l4.7-4.25l1.3-.45l4.7-4.25l1.3-.45l4.7-4.25l1.3-.45l4.7-4.25l1.3-.45l4.7-4.25l1.3-.45l4.7-4.25l1.3-.45l4.7-4.25l1.3-.45M510.2 86.0l4.7-4.25l1.3-.45l4.7-4.25l1.3-.45l4.7-4.25l1.3-.45l4.7-4.25l1.3-.45l4.7-4.25l1.3-.45l4.7-4.25l1.3-.45l4.7-4.25l1.3-.45l4.7-4.25l1.3-.45l4.7-4.25l1.3-.45l4.7-4.25l1.3-.45l4.7-4.25l1.3-.45l4.7-4.25l1.3-.45l4.7-4.25l1.3-.45M507.4 94.6l4.7-4.25l1.3-.45l4.7-4.25l1.3-.45l4.7-4.25l1.3-.45l4.7-4.25l1.3-.45l4.7-4.25l1.3-.45l4.7-4.25l1.3-.45l4.7-4.25l1.3-.45l4.7-4.25l1.3-.45l4.7-4.25l1.3-.45l4.7-4.25l1.3-.45l4.7-4.25l1.3-.45l4.7-4.25l1.3-.45l4.7-4.25l1.3-.45M510.6 98.5l4.7-4.25l1.3-.45l4.7-4.25l1.3-.45l4.7-4.25l1.3-.45l4.7-4.25l1.3-.45l4.7-4.25l1.3-.45l4.7-4.25l1.3-.45l4.7-4.25l1.3-.45l4.7-4.25l1.3-.45l4.7-4.25l1.3-.45l4.7-4.25l1.3-.45l4.7-4.25l1.3-.45l4.7-4.25l1.3-.45l4.7-4.25l1.3-.45M507.8 107.1l4.7-4.25l1.3-.45l4.7-4.25l1.3-.45l4.7-4.25l1.3-.45l4.7-4.25l1.3-.45l4.7-4.25l1.3-.45l4.7-4.25l1.3-.45l4.7-4.25l1.3-.45l4.7-4.25l1.3-.45l4.7-4.25l1.3-.45l4.7-4.25l1.3-.45l4.7-4.25l1.3-.45l4.7-4.25l1.3-.45l4.7-4.25l1.3-.45M511.0 111.0l4.7-4.25l1.3-.45l4.7-4.25l1.3-.45l4.7-4.25l1.3-.45l4.7-4.25l1.3-.45l4.7-4.25l1.3-.45l4.7-4.25l1.3-.45l4.7-4.25l1.3-.45l4.7-4.25l1.3-.45l4.7-4.25l1.3-.45l4.7-4.25l1.3-.45l4.7-4.25l1.3-.45l4.7-4.25l1.3-.45l4.7-4.25l1.3-.45M508.2 119.6l4.7-4.25l1.3-.45l4.7-4.25l1.3-.45l4.7-4.25l1.3-.45l4.7-4.25l1.3-.45l4.7-4.25l1.3-.45l4.7-4.25l1.3-.45l4.7-4.25l1.3-.45l4.7-4.25l1.3-.45l4.7-4.25l1.3-.45l4.7-4.25l1.3-.45l4.7-4.25l1.3-.45l4.7-4.25l1.3-.45l4.7-4.25l1.3-.45M511.4 123.5l4.7-4.25l1.3-.45l4.7-4.25l1.3-.45l4.7-4.25l1.3-.45l4.7-4.25l1.3-.45l4.7-4.25l1.3-.45l4.7-4.25l1.3-.45l4.7-4.25l1.3-.45l4.7-4.25l1.3-.45l4.7-4.25l1.3-.45l4.7-4.25l1.3-.45l4.7-4.25l1.3-.45l4.7-4.25l1.3-.45l4.7-4.25l1.3-.45M508.6 132.1l4.7-4.25l1.3-.45l4.7-4.25l1.3-.45l4.7-4.25l1.3-.45l4.7-4.25l1.3-.45l4.7-4.25l1.3-.45l4.7-4.25l1.3-.45l4.7-4.25l1.3-.45l4.7-4.25l1.3-.45l4.7-4.25l1.3-.45l4.7-4.25l1.3-.45l4.7-4.25l1.3-.45l4.7-4.25l1.3-.45l4.7-4.25l1.3-.45M511.8 136.0l4.7-4.25l1.3-.45l4.7-4.25l1.3-.45l4.7-4.25l1.3-.45l4.7-4.25l1.3-.45l4.7-4.25l1.3-.45l4.7-4.25l1.3-.45l4.7-4.25l1.3-.45l4.7-4.25l1.3-.45l4.7-4.25l1.3-.45l4.7-4.25l1.3-.45l4.7-4.25l1.3-.45l4.7-4.25l1.3-.45l4.7-4.25l1.3-.45" fill="none" stroke="#1c1c1c" stroke-width="1.12" stroke-linejoin="round"/>
<rect x="519" y="68.5" width="56.1" height="21.8" fill="none" stroke="#1f1f1f" stroke-width="1.1"/>
<text transform="translate(582.40,36.80) scale(1.1170,1)" font-size="18.8">10</text>
<text transform="translate(611.50,36.80) scale(1.2090,1)" font-size="18.8">°C</text>
<text transform="translate(582.40,61.30) scale(1.1011,1)" font-size="18.8">15</text>
<text transform="translate(611.50,61.30) scale(1.2090,1)" font-size="18.8">°C</text>
<text transform="translate(580.60,85.90) scale(1.1968,1)" font-size="18.8">20</text>
<text transform="translate(611.50,85.90) scale(1.2090,1)" font-size="18.8">°C</text>
<rect x="177" y="664.4" width="35.400000000000006" height="114.20000000000005" fill="#fff" stroke="#1f1f1f" stroke-width="1.1"/>
<path clip-path="url(#c4)" d="M236.4 584.4l4.7-4.25l1.3-.45l4.7-4.25l1.3-.45l4.7-4.25l1.3-.45l4.7-4.25l1.3-.45l4.7-4.25l1.3-.45l4.7-4.25l1.3-.45l4.7-4.25l1.3-.45l4.7-4.25l1.3-.45l4.7-4.25l1.3-.45l4.7-4.25l1.3-.45M239.6 588.3l4.7-4.25l1.3-.45l4.7-4.25l1.3-.45l4.7-4.25l1.3-.45l4.7-4.25l1.3-.45l4.7-4.25l1.3-.45l4.7-4.25l1.3-.45l4.7-4.25l1.3-.45l4.7-4.25l1.3-.45l4.7-4.25l1.3-.45l4.7-4.25l1.3-.45M236.8 596.9l4.7-4.25l1.3-.45l4.7-4.25l1.3-.45l4.7-4.25l1.3-.45l4.7-4.25l1.3-.45l4.7-4.25l1.3-.45l4.7-4.25l1.3-.45l4.7-4.25l1.3-.45l4.7-4.25l1.3-.45l4.7-4.25l1.3-.45l4.7-4.25l1.3-.45M240.0 600.8l4.7-4.25l1.3-.45l4.7-4.25l1.3-.45l4.7-4.25l1.3-.45l4.7-4.25l1.3-.45l4.7-4.25l1.3-.45l4.7-4.25l1.3-.45l4.7-4.25l1.3-.45l4.7-4.25l1.3-.45l4.7-4.25l1.3-.45l4.7-4.25l1.3-.45M237.2 609.4l4.7-4.25l1.3-.45l4.7-4.25l1.3-.45l4.7-4.25l1.3-.45l4.7-4.25l1.3-.45l4.7-4.25l1.3-.45l4.7-4.25l1.3-.45l4.7-4.25l1.3-.45l4.7-4.25l1.3-.45l4.7-4.25l1.3-.45l4.7-4.25l1.3-.45M240.4 613.3l4.7-4.25l1.3-.45l4.7-4.25l1.3-.45l4.7-4.25l1.3-.45l4.7-4.25l1.3-.45l4.7-4.25l1.3-.45l4.7-4.25l1.3-.45l4.7-4.25l1.3-.45l4.7-4.25l1.3-.45l4.7-4.25l1.3-.45l4.7-4.25l1.3-.45M237.6 621.9l4.7-4.25l1.3-.45l4.7-4.25l1.3-.45l4.7-4.25l1.3-.45l4.7-4.25l1.3-.45l4.7-4.25l1.3-.45l4.7-4.25l1.3-.45l4.7-4.25l1.3-.45l4.7-4.25l1.3-.45l4.7-4.25l1.3-.45l4.7-4.25l1.3-.45M240.8 625.8l4.7-4.25l1.3-.45l4.7-4.25l1.3-.45l4.7-4.25l1.3-.45l4.7-4.25l1.3-.45l4.7-4.25l1.3-.45l4.7-4.25l1.3-.45l4.7-4.25l1.3-.45l4.7-4.25l1.3-.45l4.7-4.25l1.3-.45l4.7-4.25l1.3-.45M238.0 634.4l4.7-4.25l1.3-.45l4.7-4.25l1.3-.45l4.7-4.25l1.3-.45l4.7-4.25l1.3-.45l4.7-4.25l1.3-.45l4.7-4.25l1.3-.45l4.7-4.25l1.3-.45l4.7-4.25l1.3-.45l4.7-4.25l1.3-.45l4.7-4.25l1.3-.45M241.2 638.3l4.7-4.25l1.3-.45l4.7-4.25l1.3-.45l4.7-4.25l1.3-.45l4.7-4.25l1.3-.45l4.7-4.25l1.3-.45l4.7-4.25l1.3-.45l4.7-4.25l1.3-.45l4.7-4.25l1.3-.45l4.7-4.25l1.3-.45l4.7-4.25l1.3-.45M238.4 646.9l4.7-4.25l1.3-.45l4.7-4.25l1.3-.45l4.7-4.25l1.3-.45l4.7-4.25l1.3-.45l4.7-4.25l1.3-.45l4.7-4.25l1.3-.45l4.7-4.25l1.3-.45l4.7-4.25l1.3-.45l4.7-4.25l1.3-.45l4.7-4.25l1.3-.45M241.6 650.8l4.7-4.25l1.3-.45l4.7-4.25l1.3-.45l4.7-4.25l1.3-.45l4.7-4.25l1.3-.45l4.7-4.25l1.3-.45l4.7-4.25l1.3-.45l4.7-4.25l1.3-.45l4.7-4.25l1.3-.45l4.7-4.25l1.3-.45l4.7-4.25l1.3-.45M238.8 659.4l4.7-4.25l1.3-.45l4.7-4.25l1.3-.45l4.7-4.25l1.3-.45l4.7-4.25l1.3-.45l4.7-4.25l1.3-.45l4.7-4.25l1.3-.45l4.7-4.25l1.3-.45l4.7-4.25l1.3-.45l4.7-4.25l1.3-.45l4.7-4.25l1.3-.45M242.0 663.3l4.7-4.25l1.3-.45l4.7-4.25l1.3-.45l4.7-4.25l1.3-.45l4.7-4.25l1.3-.45l4.7-4.25l1.3-.45l4.7-4.25l1.3-.45l4.7-4.25l1.3-.45l4.7-4.25l1.3-.45l4.7-4.25l1.3-.45l4.7-4.25l1.3-.45M239.2 671.9l4.7-4.25l1.3-.45l4.7-4.25l1.3-.45l4.7-4.25l1.3-.45l4.7-4.25l1.3-.45l4.7-4.25l1.3-.45l4.7-4.25l1.3-.45l4.7-4.25l1.3-.45l4.7-4.25l1.3-.45l4.7-4.25l1.3-.45l4.7-4.25l1.3-.45M236.4 680.5l4.7-4.25l1.3-.45l4.7-4.25l1.3-.45l4.7-4.25l1.3-.45l4.7-4.25l1.3-.45l4.7-4.25l1.3-.45l4.7-4.25l1.3-.45l4.7-4.25l1.3-.45l4.7-4.25l1.3-.45l4.7-4.25l1.3-.45l4.7-4.25l1.3-.45M239.6 684.5l4.7-4.25l1.3-.45l4.7-4.25l1.3-.45l4.7-4.25l1.3-.45l4.7-4.25l1.3-.45l4.7-4.25l1.3-.45l4.7-4.25l1.3-.45l4.7-4.25l1.3-.45l4.7-4.25l1.3-.45l4.7-4.25l1.3-.45l4.7-4.25l1.3-.45M236.8 693.1l4.7-4.25l1.3-.45l4.7-4.25l1.3-.45l4.7-4.25l1.3-.45l4.7-4.25l1.3-.45l4.7-4.25l1.3-.45l4.7-4.25l1.3-.45l4.7-4.25l1.3-.45l4.7-4.25l1.3-.45l4.7-4.25l1.3-.45l4.7-4.25l1.3-.45M240.0 697.0l4.7-4.25l1.3-.45l4.7-4.25l1.3-.45l4.7-4.25l1.3-.45l4.7-4.25l1.3-.45l4.7-4.25l1.3-.45l4.7-4.25l1.3-.45l4.7-4.25l1.3-.45l4.7-4.25l1.3-.45l4.7-4.25l1.3-.45l4.7-4.25l1.3-.45M237.2 705.6l4.7-4.25l1.3-.45l4.7-4.25l1.3-.45l4.7-4.25l1.3-.45l4.7-4.25l1.3-.45l4.7-4.25l1.3-.45l4.7-4.25l1.3-.45l4.7-4.25l1.3-.45l4.7-4.25l1.3-.45l4.7-4.25l1.3-.45l4.7-4.25l1.3-.45M240.4 709.5l4.7-4.25l1.3-.45l4.7-4.25l1.3-.45l4.7-4.25l1.3-.45l4.7-4.25l1.3-.45l4.7-4.25l1.3-.45l4.7-4.25l1.3-.45l4.7-4.25l1.3-.45l4.7-4.25l1.3-.45l4.7-4.25l1.3-.45l4.7-4.25l1.3-.45M237.6 718.1l4.7-4.25l1.3-.45l4.7-4.25l1.3-.45l4.7-4.25l1.3-.45l4.7-4.25l1.3-.45l4.7-4.25l1.3-.45l4.7-4.25l1.3-.45l4.7-4.25l1.3-.45l4.7-4.25l1.3-.45l4.7-4.25l1.3-.45l4.7-4.25l1.3-.45M240.8 722.0l4.7-4.25l1.3-.45l4.7-4.25l1.3-.45l4.7-4.25l1.3-.45l4.7-4.25l1.3-.45l4.7-4.25l1.3-.45l4.7-4.25l1.3-.45l4.7-4.25l1.3-.45l4.7-4.25l1.3-.45l4.7-4.25l1.3-.45l4.7-4.25l1.3-.45M238.0 730.6l4.7-4.25l1.3-.45l4.7-4.25l1.3-.45l4.7-4.25l1.3-.45l4.7-4.25l1.3-.45l4.7-4.25l1.3-.45l4.7-4.25l1.3-.45l4.7-4.25l1.3-.45l4.7-4.25l1.3-.45l4.7-4.25l1.3-.45l4.7-4.25l1.3-.45M241.2 734.5l4.7-4.25l1.3-.45l4.7-4.25l1.3-.45l4.7-4.25l1.3-.45l4.7-4.25l1.3-.45l4.7-4.25l1.3-.45l4.7-4.25l1.3-.45l4.7-4.25l1.3-.45l4.7-4.25l1.3-.45l4.7-4.25l1.3-.45l4.7-4.25l1.3-.45M238.4 743.1l4.7-4.25l1.3-.45l4.7-4.25l1.3-.45l4.7-4.25l1.3-.45l4.7-4.25l1.3-.45l4.7-4.25l1.3-.45l4.7-4.25l1.3-.45l4.7-4.25l1.3-.45l4.7-4.25l1.3-.45l4.7-4.25l1.3-.45l4.7-4.25l1.3-.45M241.6 747.0l4.7-4.25l1.3-.45l4.7-4.25l1.3-.45l4.7-4.25l1.3-.45l4.7-4.25l1.3-.45l4.7-4.25l1.3-.45l4.7-4.25l1.3-.45l4.7-4.25l1.3-.45l4.7-4.25l1.3-.45l4.7-4.25l1.3-.45l4.7-4.25l1.3-.45M238.8 755.6l4.7-4.25l1.3-.45l4.7-4.25l1.3-.45l4.7-4.25l1.3-.45l4.7-4.25l1.3-.45l4.7-4.25l1.3-.45l4.7-4.25l1.3-.45l4.7-4.25l1.3-.45l4.7-4.25l1.3-.45l4.7-4.25l1.3-.45l4.7-4.25l1.3-.45M242.0 759.5l4.7-4.25l1.3-.45l4.7-4.25l1.3-.45l4.7-4.25l1.3-.45l4.7-4.25l1.3-.45l4.7-4.25l1.3-.45l4.7-4.25l1.3-.45l4.7-4.25l1.3-.45l4.7-4.25l1.3-.45l4.7-4.25l1.3-.45l4.7-4.25l1.3-.45M239.2 768.1l4.7-4.25l1.3-.45l4.7-4.25l1.3-.45l4.7-4.25l1.3-.45l4.7-4.25l1.3-.45l4.7-4.25l1.3-.45l4.7-4.25l1.3-.45l4.7-4.25l1.3-.45l4.7-4.25l1.3-.45l4.7-4.25l1.3-.45l4.7-4.25l1.3-.45M236.4 776.7l4.7-4.25l1.3-.45l4.7-4.25l1.3-.45l4.7-4.25l1.3-.45l4.7-4.25l1.3-.45l4.7-4.25l1.3-.45l4.7-4.25l1.3-.45l4.7-4.25l1.3-.45l4.7-4.25l1.3-.45l4.7-4.25l1.3-.45l4.7-4.25l1.3-.45M239.6 780.6l4.7-4.25l1.3-.45l4.7-4.25l1.3-.45l4.7-4.25l1.3-.45l4.7-4.25l1.3-.45l4.7-4.25l1.3-.45l4.7-4.25l1.3-.45l4.7-4.25l1.3-.45l4.7-4.25l1.3-.45l4.7-4.25l1.3-.45l4.7-4.25l1.3-.45M236.8 789.2l4.7-4.25l1.3-.45l4.7-4.25l1.3-.45l4.7-4.25l1.3-.45l4.7-4.25l1.3-.45l4.7-4.25l1.3-.45l4.7-4.25l1.3-.45l4.7-4.25l1.3-.45l4.7-4.25l1.3-.45l4.7-4.25l1.3-.45l4.7-4.25l1.3-.45M240.0 793.1l4.7-4.25l1.3-.45l4.7-4.25l1.3-.45l4.7-4.25l1.3-.45l4.7-4.25l1.3-.45l4.7-4.25l1.3-.45l4.7-4.25l1.3-.45l4.7-4.25l1.3-.45l4.7-4.25l1.3-.45l4.7-4.25l1.3-.45l4.7-4.25l1.3-.45M237.2 801.7l4.7-4.25l1.3-.45l4.7-4.25l1.3-.45l4.7-4.25l1.3-.45l4.7-4.25l1.3-.45l4.7-4.25l1.3-.45l4.7-4.25l1.3-.45l4.7-4.25l1.3-.45l4.7-4.25l1.3-.45l4.7-4.25l1.3-.45l4.7-4.25l1.3-.45M240.4 805.6l4.7-4.25l1.3-.45l4.7-4.25l1.3-.45l4.7-4.25l1.3-.45l4.7-4.25l1.3-.45l4.7-4.25l1.3-.45l4.7-4.25l1.3-.45l4.7-4.25l1.3-.45l4.7-4.25l1.3-.45l4.7-4.25l1.3-.45l4.7-4.25l1.3-.45M237.6 814.2l4.7-4.25l1.3-.45l4.7-4.25l1.3-.45l4.7-4.25l1.3-.45l4.7-4.25l1.3-.45l4.7-4.25l1.3-.45l4.7-4.25l1.3-.45l4.7-4.25l1.3-.45l4.7-4.25l1.3-.45l4.7-4.25l1.3-.45l4.7-4.25l1.3-.45" fill="none" stroke="#1c1c1c" stroke-width="1.12" stroke-linejoin="round"/>
<rect x="248.4" y="570.8" width="36.30" height="207.80" fill="none" stroke="#1f1f1f" stroke-width="1.1"/>
<rect x="211.9" y="539.4" width="37.0" height="239.20000000000005" fill="#000"/>
<rect x="355.6" y="635.9" width="36.299999999999955" height="142.70000000000005" fill="#fff" stroke="#1f1f1f" stroke-width="1.1"/>
<path clip-path="url(#c5)" d="M415.7 595.4l4.7-4.25l1.3-.45l4.7-4.25l1.3-.45l4.7-4.25l1.3-.45l4.7-4.25l1.3-.45l4.7-4.25l1.3-.45l4.7-4.25l1.3-.45l4.7-4.25l1.3-.45l4.7-4.25l1.3-.45l4.7-4.25l1.3-.45M418.9 599.3l4.7-4.25l1.3-.45l4.7-4.25l1.3-.45l4.7-4.25l1.3-.45l4.7-4.25l1.3-.45l4.7-4.25l1.3-.45l4.7-4.25l1.3-.45l4.7-4.25l1.3-.45l4.7-4.25l1.3-.45l4.7-4.25l1.3-.45M416.1 607.9l4.7-4.25l1.3-.45l4.7-4.25l1.3-.45l4.7-4.25l1.3-.45l4.7-4.25l1.3-.45l4.7-4.25l1.3-.45l4.7-4.25l1.3-.45l4.7-4.25l1.3-.45l4.7-4.25l1.3-.45l4.7-4.25l1.3-.45M419.3 611.8l4.7-4.25l1.3-.45l4.7-4.25l1.3-.45l4.7-4.25l1.3-.45l4.7-4.25l1.3-.45l4.7-4.25l1.3-.45l4.7-4.25l1.3-.45l4.7-4.25l1.3-.45l4.7-4.25l1.3-.45l4.7-4.25l1.3-.45M416.5 620.4l4.7-4.25l1.3-.45l4.7-4.25l1.3-.45l4.7-4.25l1.3-.45l4.7-4.25l1.3-.45l4.7-4.25l1.3-.45l4.7-4.25l1.3-.45l4.7-4.25l1.3-.45l4.7-4.25l1.3-.45l4.7-4.25l1.3-.45M419.7 624.3l4.7-4.25l1.3-.45l4.7-4.25l1.3-.45l4.7-4.25l1.3-.45l4.7-4.25l1.3-.45l4.7-4.25l1.3-.45l4.7-4.25l1.3-.45l4.7-4.25l1.3-.45l4.7-4.25l1.3-.45l4.7-4.25l1.3-.45M416.9 632.9l4.7-4.25l1.3-.45l4.7-4.25l1.3-.45l4.7-4.25l1.3-.45l4.7-4.25l1.3-.45l4.7-4.25l1.3-.45l4.7-4.25l1.3-.45l4.7-4.25l1.3-.45l4.7-4.25l1.3-.45l4.7-4.25l1.3-.45M420.1 636.8l4.7-4.25l1.3-.45l4.7-4.25l1.3-.45l4.7-4.25l1.3-.45l4.7-4.25l1.3-.45l4.7-4.25l1.3-.45l4.7-4.25l1.3-.45l4.7-4.25l1.3-.45l4.7-4.25l1.3-.45l4.7-4.25l1.3-.45M417.3 645.4l4.7-4.25l1.3-.45l4.7-4.25l1.3-.45l4.7-4.25l1.3-.45l4.7-4.25l1.3-.45l4.7-4.25l1.3-.45l4.7-4.25l1.3-.45l4.7-4.25l1.3-.45l4.7-4.25l1.3-.45l4.7-4.25l1.3-.45M420.5 649.3l4.7-4.25l1.3-.45l4.7-4.25l1.3-.45l4.7-4.25l1.3-.45l4.7-4.25l1.3-.45l4.7-4.25l1.3-.45l4.7-4.25l1.3-.45l4.7-4.25l1.3-.45l4.7-4.25l1.3-.45l4.7-4.25l1.3-.45M417.7 657.9l4.7-4.25l1.3-.45l4.7-4.25l1.3-.45l4.7-4.25l1.3-.45l4.7-4.25l1.3-.45l4.7-4.25l1.3-.45l4.7-4.25l1.3-.45l4.7-4.25l1.3-.45l4.7-4.25l1.3-.45l4.7-4.25l1.3-.45M420.9 661.8l4.7-4.25l1.3-.45l4.7-4.25l1.3-.45l4.7-4.25l1.3-.45l4.7-4.25l1.3-.45l4.7-4.25l1.3-.45l4.7-4.25l1.3-.45l4.7-4.25l1.3-.45l4.7-4.25l1.3-.45l4.7-4.25l1.3-.45M418.1 670.4l4.7-4.25l1.3-.45l4.7-4.25l1.3-.45l4.7-4.25l1.3-.45l4.7-4.25l1.3-.45l4.7-4.25l1.3-.45l4.7-4.25l1.3-.45l4.7-4.25l1.3-.45l4.7-4.25l1.3-.45l4.7-4.25l1.3-.45M421.3 674.3l4.7-4.25l1.3-.45l4.7-4.25l1.3-.45l4.7-4.25l1.3-.45l4.7-4.25l1.3-.45l4.7-4.25l1.3-.45l4.7-4.25l1.3-.45l4.7-4.25l1.3-.45l4.7-4.25l1.3-.45l4.7-4.25l1.3-.45M418.5 682.9l4.7-4.25l1.3-.45l4.7-4.25l1.3-.45l4.7-4.25l1.3-.45l4.7-4.25l1.3-.45l4.7-4.25l1.3-.45l4.7-4.25l1.3-.45l4.7-4.25l1.3-.45l4.7-4.25l1.3-.45l4.7-4.25l1.3-.45M415.7 691.5l4.7-4.25l1.3-.45l4.7-4.25l1.3-.45l4.7-4.25l1.3-.45l4.7-4.25l1.3-.45l4.7-4.25l1.3-.45l4.7-4.25l1.3-.45l4.7-4.25l1.3-.45l4.7-4.25l1.3-.45l4.7-4.25l1.3-.45M418.9 695.5l4.7-4.25l1.3-.45l4.7-4.25l1.3-.45l4.7-4.25l1.3-.45l4.7-4.25l1.3-.45l4.7-4.25l1.3-.45l4.7-4.25l1.3-.45l4.7-4.25l1.3-.45l4.7-4.25l1.3-.45l4.7-4.25l1.3-.45M416.1 704.1l4.7-4.25l1.3-.45l4.7-4.25l1.3-.45l4.7-4.25l1.3-.45l4.7-4.25l1.3-.45l4.7-4.25l1.3-.45l4.7-4.25l1.3-.45l4.7-4.25l1.3-.45l4.7-4.25l1.3-.45l4.7-4.25l1.3-.45M419.3 708.0l4.7-4.25l1.3-.45l4.7-4.25l1.3-.45l4.7-4.25l1.3-.45l4.7-4.25l1.3-.45l4.7-4.25l1.3-.45l4.7-4.25l1.3-.45l4.7-4.25l1.3-.45l4.7-4.25l1.3-.45l4.7-4.25l1.3-.45M416.5 716.6l4.7-4.25l1.3-.45l4.7-4.25l1.3-.45l4.7-4.25l1.3-.45l4.7-4.25l1.3-.45l4.7-4.25l1.3-.45l4.7-4.25l1.3-.45l4.7-4.25l1.3-.45l4.7-4.25l1.3-.45l4.7-4.25l1.3-.45M419.7 720.5l4.7-4.25l1.3-.45l4.7-4.25l1.3-.45l4.7-4.25l1.3-.45l4.7-4.25l1.3-.45l4.7-4.25l1.3-.45l4.7-4.25l1.3-.45l4.7-4.25l1.3-.45l4.7-4.25l1.3-.45l4.7-4.25l1.3-.45M416.9 729.1l4.7-4.25l1.3-.45l4.7-4.25l1.3-.45l4.7-4.25l1.3-.45l4.7-4.25l1.3-.45l4.7-4.25l1.3-.45l4.7-4.25l1.3-.45l4.7-4.25l1.3-.45l4.7-4.25l1.3-.45l4.7-4.25l1.3-.45M420.1 733.0l4.7-4.25l1.3-.45l4.7-4.25l1.3-.45l4.7-4.25l1.3-.45l4.7-4.25l1.3-.45l4.7-4.25l1.3-.45l4.7-4.25l1.3-.45l4.7-4.25l1.3-.45l4.7-4.25l1.3-.45l4.7-4.25l1.3-.45M417.3 741.6l4.7-4.25l1.3-.45l4.7-4.25l1.3-.45l4.7-4.25l1.3-.45l4.7-4.25l1.3-.45l4.7-4.25l1.3-.45l4.7-4.25l1.3-.45l4.7-4.25l1.3-.45l4.7-4.25l1.3-.45l4.7-4.25l1.3-.45M420.5 745.5l4.7-4.25l1.3-.45l4.7-4.25l1.3-.45l4.7-4.25l1.3-.45l4.7-4.25l1.3-.45l4.7-4.25l1.3-.45l4.7-4.25l1.3-.45l4.7-4.25l1.3-.45l4.7-4.25l1.3-.45l4.7-4.25l1.3-.45M417.7 754.1l4.7-4.25l1.3-.45l4.7-4.25l1.3-.45l4.7-4.25l1.3-.45l4.7-4.25l1.3-.45l4.7-4.25l1.3-.45l4.7-4.25l1.3-.45l4.7-4.25l1.3-.45l4.7-4.25l1.3-.45l4.7-4.25l1.3-.45M420.9 758.0l4.7-4.25l1.3-.45l4.7-4.25l1.3-.45l4.7-4.25l1.3-.45l4.7-4.25l1.3-.45l4.7-4.25l1.3-.45l4.7-4.25l1.3-.45l4.7-4.25l1.3-.45l4.7-4.25l1.3-.45l4.7-4.25l1.3-.45M418.1 766.6l4.7-4.25l1.3-.45l4.7-4.25l1.3-.45l4.7-4.25l1.3-.45l4.7-4.25l1.3-.45l4.7-4.25l1.3-.45l4.7-4.25l1.3-.45l4.7-4.25l1.3-.45l4.7-4.25l1.3-.45l4.7-4.25l1.3-.45M421.3 770.5l4.7-4.25l1.3-.45l4.7-4.25l1.3-.45l4.7-4.25l1.3-.45l4.7-4.25l1.3-.45l4.7-4.25l1.3-.45l4.7-4.25l1.3-.45l4.7-4.25l1.3-.45l4.7-4.25l1.3-.45l4.7-4.25l1.3-.45M418.5 779.1l4.7-4.25l1.3-.45l4.7-4.25l1.3-.45l4.7-4.25l1.3-.45l4.7-4.25l1.3-.45l4.7-4.25l1.3-.45l4.7-4.25l1.3-.45l4.7-4.25l1.3-.45l4.7-4.25l1.3-.45l4.7-4.25l1.3-.45M415.7 787.7l4.7-4.25l1.3-.45l4.7-4.25l1.3-.45l4.7-4.25l1.3-.45l4.7-4.25l1.3-.45l4.7-4.25l1.3-.45l4.7-4.25l1.3-.45l4.7-4.25l1.3-.45l4.7-4.25l1.3-.45l4.7-4.25l1.3-.45M418.9 791.6l4.7-4.25l1.3-.45l4.7-4.25l1.3-.45l4.7-4.25l1.3-.45l4.7-4.25l1.3-.45l4.7-4.25l1.3-.45l4.7-4.25l1.3-.45l4.7-4.25l1.3-.45l4.7-4.25l1.3-.45l4.7-4.25l1.3-.45M416.1 800.2l4.7-4.25l1.3-.45l4.7-4.25l1.3-.45l4.7-4.25l1.3-.45l4.7-4.25l1.3-.45l4.7-4.25l1.3-.45l4.7-4.25l1.3-.45l4.7-4.25l1.3-.45l4.7-4.25l1.3-.45l4.7-4.25l1.3-.45M419.3 804.1l4.7-4.25l1.3-.45l4.7-4.25l1.3-.45l4.7-4.25l1.3-.45l4.7-4.25l1.3-.45l4.7-4.25l1.3-.45l4.7-4.25l1.3-.45l4.7-4.25l1.3-.45l4.7-4.25l1.3-.45l4.7-4.25l1.3-.45M416.5 812.7l4.7-4.25l1.3-.45l4.7-4.25l1.3-.45l4.7-4.25l1.3-.45l4.7-4.25l1.3-.45l4.7-4.25l1.3-.45l4.7-4.25l1.3-.45l4.7-4.25l1.3-.45l4.7-4.25l1.3-.45l4.7-4.25l1.3-.45" fill="none" stroke="#1c1c1c" stroke-width="1.12" stroke-linejoin="round"/>
<rect x="427.7" y="581.8" width="35.10" height="196.80" fill="none" stroke="#1f1f1f" stroke-width="1.1"/>
<rect x="391.4" y="533.6" width="36.80000000000001" height="245.0" fill="#000"/>
<rect x="534.5" y="670.1" width="35.39999999999998" height="108.5" fill="#fff" stroke="#1f1f1f" stroke-width="1.1"/>
<path clip-path="url(#c6)" d="M597.6 494.2l4.7-4.25l1.3-.45l4.7-4.25l1.3-.45l4.7-4.25l1.3-.45l4.7-4.25l1.3-.45l4.7-4.25l1.3-.45l4.7-4.25l1.3-.45l4.7-4.25l1.3-.45l4.7-4.25l1.3-.45l4.7-4.25l1.3-.45M594.8 502.8l4.7-4.25l1.3-.45l4.7-4.25l1.3-.45l4.7-4.25l1.3-.45l4.7-4.25l1.3-.45l4.7-4.25l1.3-.45l4.7-4.25l1.3-.45l4.7-4.25l1.3-.45l4.7-4.25l1.3-.45l4.7-4.25l1.3-.45M598.0 506.7l4.7-4.25l1.3-.45l4.7-4.25l1.3-.45l4.7-4.25l1.3-.45l4.7-4.25l1.3-.45l4.7-4.25l1.3-.45l4.7-4.25l1.3-.45l4.7-4.25l1.3-.45l4.7-4.25l1.3-.45l4.7-4.25l1.3-.45M595.2 515.3l4.7-4.25l1.3-.45l4.7-4.25l1.3-.45l4.7-4.25l1.3-.45l4.7-4.25l1.3-.45l4.7-4.25l1.3-.45l4.7-4.25l1.3-.45l4.7-4.25l1.3-.45l4.7-4.25l1.3-.45l4.7-4.25l1.3-.45M598.4 519.2l4.7-4.25l1.3-.45l4.7-4.25l1.3-.45l4.7-4.25l1.3-.45l4.7-4.25l1.3-.45l4.7-4.25l1.3-.45l4.7-4.25l1.3-.45l4.7-4.25l1.3-.45l4.7-4.25l1.3-.45l4.7-4.25l1.3-.45M595.6 527.8l4.7-4.25l1.3-.45l4.7-4.25l1.3-.45l4.7-4.25l1.3-.45l4.7-4.25l1.3-.45l4.7-4.25l1.3-.45l4.7-4.25l1.3-.45l4.7-4.25l1.3-.45l4.7-4.25l1.3-.45l4.7-4.25l1.3-.45M598.8 531.7l4.7-4.25l1.3-.45l4.7-4.25l1.3-.45l4.7-4.25l1.3-.45l4.7-4.25l1.3-.45l4.7-4.25l1.3-.45l4.7-4.25l1.3-.45l4.7-4.25l1.3-.45l4.7-4.25l1.3-.45l4.7-4.25l1.3-.45M596.0 540.3l4.7-4.25l1.3-.45l4.7-4.25l1.3-.45l4.7-4.25l1.3-.45l4.7-4.25l1.3-.45l4.7-4.25l1.3-.45l4.7-4.25l1.3-.45l4.7-4.25l1.3-.45l4.7-4.25l1.3-.45l4.7-4.25l1.3-.45M599.2 544.2l4.7-4.25l1.3-.45l4.7-4.25l1.3-.45l4.7-4.25l1.3-.45l4.7-4.25l1.3-.45l4.7-4.25l1.3-.45l4.7-4.25l1.3-.45l4.7-4.25l1.3-.45l4.7-4.25l1.3-.45l4.7-4.25l1.3-.45M596.4 552.8l4.7-4.25l1.3-.45l4.7-4.25l1.3-.45l4.7-4.25l1.3-.45l4.7-4.25l1.3-.45l4.7-4.25l1.3-.45l4.7-4.25l1.3-.45l4.7-4.25l1.3-.45l4.7-4.25l1.3-.45l4.7-4.25l1.3-.45M599.6 556.7l4.7-4.25l1.3-.45l4.7-4.25l1.3-.45l4.7-4.25l1.3-.45l4.7-4.25l1.3-.45l4.7-4.25l1.3-.45l4.7-4.25l1.3-.45l4.7-4.25l1.3-.45l4.7-4.25l1.3-.45l4.7-4.25l1.3-.45M596.8 565.3l4.7-4.25l1.3-.45l4.7-4.25l1.3-.45l4.7-4.25l1.3-.45l4.7-4.25l1.3-.45l4.7-4.25l1.3-.45l4.7-4.25l1.3-.45l4.7-4.25l1.3-.45l4.7-4.25l1.3-.45l4.7-4.25l1.3-.45M600.0 569.2l4.7-4.25l1.3-.45l4.7-4.25l1.3-.45l4.7-4.25l1.3-.45l4.7-4.25l1.3-.45l4.7-4.25l1.3-.45l4.7-4.25l1.3-.45l4.7-4.25l1.3-.45l4.7-4.25l1.3-.45l4.7-4.25l1.3-.45M597.2 577.8l4.7-4.25l1.3-.45l4.7-4.25l1.3-.45l4.7-4.25l1.3-.45l4.7-4.25l1.3-.45l4.7-4.25l1.3-.45l4.7-4.25l1.3-.45l4.7-4.25l1.3-.45l4.7-4.25l1.3-.45l4.7-4.25l1.3-.45M600.4 581.7l4.7-4.25l1.3-.45l4.7-4.25l1.3-.45l4.7-4.25l1.3-.45l4.7-4.25l1.3-.45l4.7-4.25l1.3-.45l4.7-4.25l1.3-.45l4.7-4.25l1.3-.45l4.7-4.25l1.3-.45l4.7-4.25l1.3-.45M597.6 590.3l4.7-4.25l1.3-.45l4.7-4.25l1.3-.45l4.7-4.25l1.3-.45l4.7-4.25l1.3-.45l4.7-4.25l1.3-.45l4.7-4.25l1.3-.45l4.7-4.25l1.3-.45l4.7-4.25l1.3-.45l4.7-4.25l1.3-.45M594.8 598.9l4.7-4.25l1.3-.45l4.7-4.25l1.3-.45l4.7-4.25l1.3-.45l4.7-4.25l1.3-.45l4.7-4.25l1.3-.45l4.7-4.25l1.3-.45l4.7-4.25l1.3-.45l4.7-4.25l1.3-.45l4.7-4.25l1.3-.45M598.0 602.9l4.7-4.25l1.3-.45l4.7-4.25l1.3-.45l4.7-4.25l1.3-.45l4.7-4.25l1.3-.45l4.7-4.25l1.3-.45l4.7-4.25l1.3-.45l4.7-4.25l1.3-.45l4.7-4.25l1.3-.45l4.7-4.25l1.3-.45M595.2 611.5l4.7-4.25l1.3-.45l4.7-4.25l1.3-.45l4.7-4.25l1.3-.45l4.7-4.25l1.3-.45l4.7-4.25l1.3-.45l4.7-4.25l1.3-.45l4.7-4.25l1.3-.45l4.7-4.25l1.3-.45l4.7-4.25l1.3-.45M598.4 615.4l4.7-4.25l1.3-.45l4.7-4.25l1.3-.45l4.7-4.25l1.3-.45l4.7-4.25l1.3-.45l4.7-4.25l1.3-.45l4.7-4.25l1.3-.45l4.7-4.25l1.3-.45l4.7-4.25l1.3-.45l4.7-4.25l1.3-.45M595.6 624.0l4.7-4.25l1.3-.45l4.7-4.25l1.3-.45l4.7-4.25l1.3-.45l4.7-4.25l1.3-.45l4.7-4.25l1.3-.45l4.7-4.25l1.3-.45l4.7-4.25l1.3-.45l4.7-4.25l1.3-.45l4.7-4.25l1.3-.45M598.8 627.9l4.7-4.25l1.3-.45l4.7-4.25l1.3-.45l4.7-4.25l1.3-.45l4.7-4.25l1.3-.45l4.7-4.25l1.3-.45l4.7-4.25l1.3-.45l4.7-4.25l1.3-.45l4.7-4.25l1.3-.45l4.7-4.25l1.3-.45M596.0 636.5l4.7-4.25l1.3-.45l4.7-4.25l1.3-.45l4.7-4.25l1.3-.45l4.7-4.25l1.3-.45l4.7-4.25l1.3-.45l4.7-4.25l1.3-.45l4.7-4.25l1.3-.45l4.7-4.25l1.3-.45l4.7-4.25l1.3-.45M599.2 640.4l4.7-4.25l1.3-.45l4.7-4.25l1.3-.45l4.7-4.25l1.3-.45l4.7-4.25l1.3-.45l4.7-4.25l1.3-.45l4.7-4.25l1.3-.45l4.7-4.25l1.3-.45l4.7-4.25l1.3-.45l4.7-4.25l1.3-.45M596.4 649.0l4.7-4.25l1.3-.45l4.7-4.25l1.3-.45l4.7-4.25l1.3-.45l4.7-4.25l1.3-.45l4.7-4.25l1.3-.45l4.7-4.25l1.3-.45l4.7-4.25l1.3-.45l4.7-4.25l1.3-.45l4.7-4.25l1.3-.45M599.6 652.9l4.7-4.25l1.3-.45l4.7-4.25l1.3-.45l4.7-4.25l1.3-.45l4.7-4.25l1.3-.45l4.7-4.25l1.3-.45l4.7-4.25l1.3-.45l4.7-4.25l1.3-.45l4.7-4.25l1.3-.45l4.7-4.25l1.3-.45M596.8 661.5l4.7-4.25l1.3-.45l4.7-4.25l1.3-.45l4.7-4.25l1.3-.45l4.7-4.25l1.3-.45l4.7-4.25l1.3-.45l4.7-4.25l1.3-.45l4.7-4.25l1.3-.45l4.7-4.25l1.3-.45l4.7-4.25l1.3-.45M600.0 665.4l4.7-4.25l1.3-.45l4.7-4.25l1.3-.45l4.7-4.25l1.3-.45l4.7-4.25l1.3-.45l4.7-4.25l1.3-.45l4.7-4.25l1.3-.45l4.7-4.25l1.3-.45l4.7-4.25l1.3-.45l4.7-4.25l1.3-.45M597.2 674.0l4.7-4.25l1.3-.45l4.7-4.25l1.3-.45l4.7-4.25l1.3-.45l4.7-4.25l1.3-.45l4.7-4.25l1.3-.45l4.7-4.25l1.3-.45l4.7-4.25l1.3-.45l4.7-4.25l1.3-.45l4.7-4.25l1.3-.45M600.4 677.9l4.7-4.25l1.3-.45l4.7-4.25l1.3-.45l4.7-4.25l1.3-.45l4.7-4.25l1.3-.45l4.7-4.25l1.3-.45l4.7-4.25l1.3-.45l4.7-4.25l1.3-.45l4.7-4.25l1.3-.45l4.7-4.25l1.3-.45M597.6 686.5l4.7-4.25l1.3-.45l4.7-4.25l1.3-.45l4.7-4.25l1.3-.45l4.7-4.25l1.3-.45l4.7-4.25l1.3-.45l4.7-4.25l1.3-.45l4.7-4.25l1.3-.45l4.7-4.25l1.3-.45l4.7-4.25l1.3-.45M594.8 695.1l4.7-4.25l1.3-.45l4.7-4.25l1.3-.45l4.7-4.25l1.3-.45l4.7-4.25l1.3-.45l4.7-4.25l1.3-.45l4.7-4.25l1.3-.45l4.7-4.25l1.3-.45l4.7-4.25l1.3-.45l4.7-4.25l1.3-.45M598.0 699.0l4.7-4.25l1.3-.45l4.7-4.25l1.3-.45l4.7-4.25l1.3-.45l4.7-4.25l1.3-.45l4.7-4.25l1.3-.45l4.7-4.25l1.3-.45l4.7-4.25l1.3-.45l4.7-4.25l1.3-.45l4.7-4.25l1.3-.45M595.2 707.6l4.7-4.25l1.3-.45l4.7-4.25l1.3-.45l4.7-4.25l1.3-.45l4.7-4.25l1.3-.45l4.7-4.25l1.3-.45l4.7-4.25l1.3-.45l4.7-4.25l1.3-.45l4.7-4.25l1.3-.45l4.7-4.25l1.3-.45M598.4 711.5l4.7-4.25l1.3-.45l4.7-4.25l1.3-.45l4.7-4.25l1.3-.45l4.7-4.25l1.3-.45l4.7-4.25l1.3-.45l4.7-4.25l1.3-.45l4.7-4.25l1.3-.45l4.7-4.25l1.3-.45l4.7-4.25l1.3-.45M595.6 720.1l4.7-4.25l1.3-.45l4.7-4.25l1.3-.45l4.7-4.25l1.3-.45l4.7-4.25l1.3-.45l4.7-4.25l1.3-.45l4.7-4.25l1.3-.45l4.7-4.25l1.3-.45l4.7-4.25l1.3-.45l4.7-4.25l1.3-.45M598.8 724.0l4.7-4.25l1.3-.45l4.7-4.25l1.3-.45l4.7-4.25l1.3-.45l4.7-4.25l1.3-.45l4.7-4.25l1.3-.45l4.7-4.25l1.3-.45l4.7-4.25l1.3-.45l4.7-4.25l1.3-.45l4.7-4.25l1.3-.45M596.0 732.6l4.7-4.25l1.3-.45l4.7-4.25l1.3-.45l4.7-4.25l1.3-.45l4.7-4.25l1.3-.45l4.7-4.25l1.3-.45l4.7-4.25l1.3-.45l4.7-4.25l1.3-.45l4.7-4.25l1.3-.45l4.7-4.25l1.3-.45M599.2 736.5l4.7-4.25l1.3-.45l4.7-4.25l1.3-.45l4.7-4.25l1.3-.45l4.7-4.25l1.3-.45l4.7-4.25l1.3-.45l4.7-4.25l1.3-.45l4.7-4.25l1.3-.45l4.7-4.25l1.3-.45l4.7-4.25l1.3-.45M596.4 745.1l4.7-4.25l1.3-.45l4.7-4.25l1.3-.45l4.7-4.25l1.3-.45l4.7-4.25l1.3-.45l4.7-4.25l1.3-.45l4.7-4.25l1.3-.45l4.7-4.25l1.3-.45l4.7-4.25l1.3-.45l4.7-4.25l1.3-.45M599.6 749.0l4.7-4.25l1.3-.45l4.7-4.25l1.3-.45l4.7-4.25l1.3-.45l4.7-4.25l1.3-.45l4.7-4.25l1.3-.45l4.7-4.25l1.3-.45l4.7-4.25l1.3-.45l4.7-4.25l1.3-.45l4.7-4.25l1.3-.45M596.8 757.6l4.7-4.25l1.3-.45l4.7-4.25l1.3-.45l4.7-4.25l1.3-.45l4.7-4.25l1.3-.45l4.7-4.25l1.3-.45l4.7-4.25l1.3-.45l4.7-4.25l1.3-.45l4.7-4.25l1.3-.45l4.7-4.25l1.3-.45M600.0 761.5l4.7-4.25l1.3-.45l4.7-4.25l1.3-.45l4.7-4.25l1.3-.45l4.7-4.25l1.3-.45l4.7-4.25l1.3-.45l4.7-4.25l1.3-.45l4.7-4.25l1.3-.45l4.7-4.25l1.3-.45l4.7-4.25l1.3-.45M597.2 770.1l4.7-4.25l1.3-.45l4.7-4.25l1.3-.45l4.7-4.25l1.3-.45l4.7-4.25l1.3-.45l4.7-4.25l1.3-.45l4.7-4.25l1.3-.45l4.7-4.25l1.3-.45l4.7-4.25l1.3-.45l4.7-4.25l1.3-.45M600.4 774.0l4.7-4.25l1.3-.45l4.7-4.25l1.3-.45l4.7-4.25l1.3-.45l4.7-4.25l1.3-.45l4.7-4.25l1.3-.45l4.7-4.25l1.3-.45l4.7-4.25l1.3-.45l4.7-4.25l1.3-.45l4.7-4.25l1.3-.45M597.6 782.6l4.7-4.25l1.3-.45l4.7-4.25l1.3-.45l4.7-4.25l1.3-.45l4.7-4.25l1.3-.45l4.7-4.25l1.3-.45l4.7-4.25l1.3-.45l4.7-4.25l1.3-.45l4.7-4.25l1.3-.45l4.7-4.25l1.3-.45M594.8 791.2l4.7-4.25l1.3-.45l4.7-4.25l1.3-.45l4.7-4.25l1.3-.45l4.7-4.25l1.3-.45l4.7-4.25l1.3-.45l4.7-4.25l1.3-.45l4.7-4.25l1.3-.45l4.7-4.25l1.3-.45l4.7-4.25l1.3-.45M598.0 795.2l4.7-4.25l1.3-.45l4.7-4.25l1.3-.45l4.7-4.25l1.3-.45l4.7-4.25l1.3-.45l4.7-4.25l1.3-.45l4.7-4.25l1.3-.45l4.7-4.25l1.3-.45l4.7-4.25l1.3-.45l4.7-4.25l1.3-.45M595.2 803.8l4.7-4.25l1.3-.45l4.7-4.25l1.3-.45l4.7-4.25l1.3-.45l4.7-4.25l1.3-.45l4.7-4.25l1.3-.45l4.7-4.25l1.3-.45l4.7-4.25l1.3-.45l4.7-4.25l1.3-.45l4.7-4.25l1.3-.45M598.4 807.7l4.7-4.25l1.3-.45l4.7-4.25l1.3-.45l4.7-4.25l1.3-.45l4.7-4.25l1.3-.45l4.7-4.25l1.3-.45l4.7-4.25l1.3-.45l4.7-4.25l1.3-.45l4.7-4.25l1.3-.45l4.7-4.25l1.3-.45" fill="none" stroke="#1c1c1c" stroke-width="1.12" stroke-linejoin="round"/>
<rect x="606.8" y="487.2" width="35.20" height="291.40" fill="none" stroke="#1f1f1f" stroke-width="1.1"/>
<rect x="569.4" y="482.7" width="37.89999999999998" height="295.90000000000003" fill="#000"/>
<path d="M141.1 429.7V778.6H679" fill="none" stroke="#1f1f1f" stroke-width="1.25"/>
<path d="M133.5 778.6H141.1" stroke="#1f1f1f" stroke-width="1.25"/>
<path d="M133.5 709.02H141.1" stroke="#1f1f1f" stroke-width="1.25"/>
<path d="M133.5 639.44H141.1" stroke="#1f1f1f" stroke-width="1.25"/>
<path d="M133.5 569.86H141.1" stroke="#1f1f1f" stroke-width="1.25"/>
<path d="M133.5 500.28000000000003H141.1" stroke="#1f1f1f" stroke-width="1.25"/>
<path d="M133.5 430.70000000000005H141.1" stroke="#1f1f1f" stroke-width="1.25"/>
<path d="M230.1 778.6V784.9" stroke="#1f1f1f" stroke-width="1.25"/>
<path d="M409.6 778.6V784.9" stroke="#1f1f1f" stroke-width="1.25"/>
<path d="M588.9 778.6V784.9" stroke="#1f1f1f" stroke-width="1.25"/>
<text transform="translate(104.60,434.60) scale(1.0800,1)" font-size="19.3" letter-spacing="-0.319">55</text>
<text transform="translate(104.00,504.80) scale(1.0800,1)" font-size="19.3" letter-spacing="0.793">44</text>
<text transform="translate(104.30,573.90) scale(1.0800,1)" font-size="19.3" letter-spacing="-0.041">33</text>
<text transform="translate(104.00,644.80) scale(1.0800,1)" font-size="19.3" letter-spacing="0.978">22</text>
<text transform="translate(105.40,714.30) scale(1.0800,1)" font-size="19.3" letter-spacing="-0.915">11</text>
<text transform="translate(115.70,783.70) scale(1.0928,1)" font-size="19.3">0</text>
<text transform="translate(209.50,803.90) scale(1.0804,1)" font-size="18.3">L</text>
<text transform="translate(224.10,803.90) scale(1.2150,1)" font-size="18.3">Cu</text>
<text transform="translate(385.80,803.60) scale(1.2314,1)" font-size="18.3">MCu</text>
<text transform="translate(567.70,803.80) scale(1.1763,1)" font-size="18.3">HCu</text>
<path d="M191 665H199" stroke="#1f1f1f" stroke-width="1.6"/>
<path d="M226.89999999999998 536.4H234.5M230.7 536.4V541M226.89999999999998 541H234.5" stroke="#111" stroke-width="1.15" fill="none"/>
<path d="M263.59999999999997 562.3H271.2M267.4 562.3V577.8M263.59999999999997 577.8H271.2" stroke="#111" stroke-width="1.15" fill="none"/>
<path d="M370.5 632.2H378.1M374.3 632.2V639.1M370.5 639.1H378.1" stroke="#111" stroke-width="1.15" fill="none"/>
<path d="M406.0 522.5H413.6M409.8 522.5V535M406.0 535H413.6" stroke="#111" stroke-width="1.15" fill="none"/>
<path d="M441.5 578.3H449.1M445.3 578.3V585.2M441.5 585.2H449.1" stroke="#111" stroke-width="1.15" fill="none"/>
<path d="M548.4 670.3H556.6" stroke="#1f1f1f" stroke-width="2.4"/>
<path d="M584.6 468.5H592.1999999999999M588.4 468.5V484M584.6 484H592.1999999999999" stroke="#111" stroke-width="1.15" fill="none"/>
<path d="M620.6 484.4H628.1999999999999M624.4 484.4V488.6M620.6 488.6H628.1999999999999" stroke="#111" stroke-width="1.15" fill="none"/>
<text transform="translate(182.90,658.80) scale(1.1923,1)" font-size="19.6" letter-spacing="0.500">Aa</text>
<text transform="translate(219.20,532.30) scale(1.1510,1)" font-size="19.6" letter-spacing="0.500">Ab</text>
<text transform="translate(254.90,558.30) scale(1.2009,1)" font-size="19.6" letter-spacing="0.500">Ac</text>
<text transform="translate(360.80,626.60) scale(1.2422,1)" font-size="19.6" letter-spacing="0.500">Ba</text>
<text transform="translate(397.50,518.30) scale(1.1959,1)" font-size="19.6" letter-spacing="0.500">Ab</text>
<text transform="translate(432.80,573.60) scale(1.2197,1)" font-size="19.6" letter-spacing="0.500">Bc</text>
<text transform="translate(540.70,663.60) scale(1.1659,1)" font-size="19.6" letter-spacing="0.500">Ca</text>
<text transform="translate(575.60,463.80) scale(1.1880,1)" font-size="19.6" letter-spacing="0.500">Bb</text>
<text transform="translate(612.50,480.20) scale(1.0897,1)" font-size="19.6" letter-spacing="0.500">Cb</text>
<text transform="translate(145.50,445.40) scale(1.2200,1)" font-size="22.5">B</text>
<text transform="translate(31.40,304.00) rotate(-90) scale(1.17,1) translate(-0.00,0)" font-size="21.9" letter-spacing="-0.895">Net photosynthetic rate</text>
<text transform="translate(48.40,675.40) rotate(-90) scale(1.17,1) translate(-0.00,0)" font-size="21.9" letter-spacing="-0.888">Respiration rate</text>
<text transform="translate(71.60,274.60) rotate(-90) scale(0.9692,1) translate(-0.00,0)" font-size="22.5">µ</text>
<text transform="translate(71.60,264.10) rotate(-90) scale(1.1450,1) translate(-0.00,0)" font-size="22.5">M</text>
<text transform="translate(71.60,240.60) rotate(-90) scale(1.3395,1) translate(-0.00,0)" font-size="22.5">O</text>
<text transform="translate(78.10,220.00) rotate(-90) scale(0.8974,1) translate(-0.00,0)" font-size="15.6">2</text>
<text transform="translate(71.60,207.70) rotate(-90) scale(1.0796,1) translate(-0.00,0)" font-size="22.5">g</text>
<text transform="translate(58.70,196.00) rotate(-90) scale(0.8151,1) translate(-0.00,0)" font-size="14.3">-1</text>
<text transform="translate(71.60,180.40) rotate(-90) scale(1.0320,1) translate(-0.00,0)" font-size="22.5">F</text>
<text transform="translate(71.60,168.10) rotate(-90) scale(1.1368,1) translate(-0.00,0)" font-size="22.5">W</text>
<text transform="translate(71.60,143.40) rotate(-90) scale(1.3982,1) translate(-0.00,0)" font-size="22.5">h</text>
<text transform="translate(58.70,126.40) rotate(-90) scale(0.9328,1) translate(-0.00,0)" font-size="14.3">-1</text>
<path transform="translate(71.60,285.20) rotate(-90)" d="M11.70 -15.8A11.70 9.80 0 0 0 11.70 3.8A9.70 9.80 0 0 1 11.70 -15.8Z" fill="#1a1a1a" stroke="#1a1a1a" stroke-width="0.5" stroke-linejoin="round"/>
<path transform="translate(71.60,114.70) rotate(-90)" d="M0 -14.8A8.80 9.50 0 0 1 0 4.2A6.80 9.50 0 0 0 0 -14.8Z" fill="#1a1a1a" stroke="#1a1a1a" stroke-width="0.5" stroke-linejoin="round"/>
<text transform="translate(88.60,683.50) rotate(-90) scale(0.9692,1) translate(-0.00,0)" font-size="22.5">µ</text>
<text transform="translate(88.60,673.00) rotate(-90) scale(1.1450,1) translate(-0.00,0)" font-size="22.5">M</text>
<text transform="translate(88.60,649.50) rotate(-90) scale(1.3395,1) translate(-0.00,0)" font-size="22.5">O</text>
<text transform="translate(95.10,628.90) rotate(-90) scale(0.8974,1) translate(-0.00,0)" font-size="15.6">2</text>
<text transform="translate(88.60,616.60) rotate(-90) scale(1.0796,1) translate(-0.00,0)" font-size="22.5">g</text>
<text transform="translate(75.70,604.90) rotate(-90) scale(0.8151,1) translate(-0.00,0)" font-size="14.3">-1</text>
<text transform="translate(88.60,589.30) rotate(-90) scale(1.0320,1) translate(-0.00,0)" font-size="22.5">F</text>
<text transform="translate(88.60,577.00) rotate(-90) scale(1.1368,1) translate(-0.00,0)" font-size="22.5">W</text>
<text transform="translate(88.60,552.30) rotate(-90) scale(1.3982,1) translate(-0.00,0)" font-size="22.5">h</text>
<text transform="translate(75.70,535.30) rotate(-90) scale(0.9328,1) translate(-0.00,0)" font-size="14.3">-1</text>
<path transform="translate(88.60,694.10) rotate(-90)" d="M11.70 -15.8A11.70 9.80 0 0 0 11.70 3.8A9.70 9.80 0 0 1 11.70 -15.8Z" fill="#1a1a1a" stroke="#1a1a1a" stroke-width="0.5" stroke-linejoin="round"/>
<path transform="translate(88.60,523.60) rotate(-90)" d="M0 -14.8A8.80 9.50 0 0 1 0 4.2A6.80 9.50 0 0 0 0 -14.8Z" fill="#1a1a1a" stroke="#1a1a1a" stroke-width="0.5" stroke-linejoin="round"/>
</svg>
</body></html>
